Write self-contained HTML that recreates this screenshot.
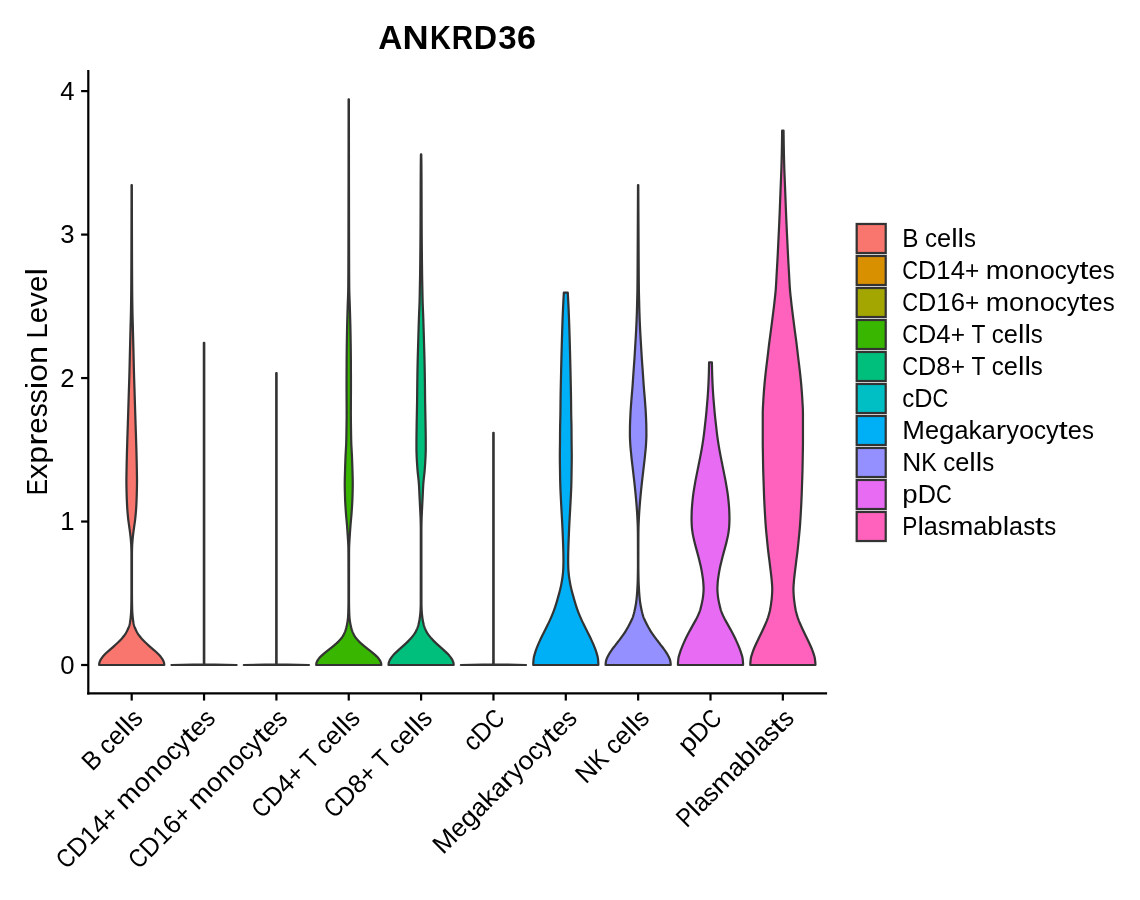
<!DOCTYPE html><html><head><meta charset="utf-8"><title>ANKRD36</title><style>html,body{margin:0;padding:0;background:#fff}svg{display:block}#w{will-change:transform;width:1140px;height:900px}text{font-family:"Liberation Sans",sans-serif;fill:#000}</style></head><body>
<div id="w">
<svg width="1140" height="900" viewBox="0 0 1140 900">
<rect width="1140" height="900" fill="#fff"/>
<g stroke="#333333" stroke-width="2.22" stroke-linejoin="round" stroke-linecap="round">
<path d="M131.55,185.05 L131.55,186.05 L131.55,187.05 L131.55,188.05 L131.55,189.05 L131.55,190.05 L131.55,191.05 L131.54,192.05 L131.54,193.05 L131.54,194.05 L131.54,195.05 L131.54,196.05 L131.54,197.05 L131.54,198.05 L131.54,199.05 L131.53,200.05 L131.53,201.05 L131.53,202.05 L131.53,203.05 L131.53,204.05 L131.53,205.05 L131.53,206.05 L131.52,207.05 L131.52,208.05 L131.52,209.05 L131.52,210.05 L131.52,211.05 L131.51,212.05 L131.51,213.05 L131.51,214.05 L131.51,215.05 L131.51,216.05 L131.50,217.05 L131.50,218.05 L131.50,219.05 L131.50,220.05 L131.50,221.05 L131.49,222.05 L131.49,223.05 L131.49,224.05 L131.49,225.05 L131.48,226.05 L131.48,227.05 L131.48,228.05 L131.48,229.05 L131.47,230.05 L131.47,231.05 L131.47,232.05 L131.47,233.05 L131.47,234.05 L131.46,235.05 L131.46,236.05 L131.46,237.05 L131.45,238.05 L131.45,239.05 L131.45,240.05 L131.45,241.05 L131.44,242.05 L131.44,243.05 L131.44,244.05 L131.44,245.05 L131.43,246.05 L131.43,247.05 L131.43,248.05 L131.43,249.05 L131.42,250.05 L131.42,251.05 L131.42,252.05 L131.41,253.05 L131.41,254.05 L131.41,255.05 L131.40,256.05 L131.40,257.05 L131.40,258.05 L131.39,259.05 L131.39,260.05 L131.39,261.05 L131.38,262.05 L131.38,263.05 L131.37,264.05 L131.37,265.05 L131.37,266.05 L131.36,267.05 L131.36,268.05 L131.35,269.05 L131.35,270.05 L131.34,271.05 L131.34,272.05 L131.33,273.05 L131.33,274.05 L131.32,275.05 L131.32,276.05 L131.31,277.05 L131.31,278.05 L131.30,279.05 L131.30,280.05 L131.29,281.05 L131.29,282.05 L131.28,283.05 L131.27,284.05 L131.27,285.05 L131.26,286.05 L131.26,287.05 L131.25,288.05 L131.24,289.05 L131.24,290.05 L131.23,291.05 L131.22,292.05 L131.21,293.05 L131.20,294.05 L131.19,295.05 L131.18,296.05 L131.17,297.05 L131.16,298.05 L131.14,299.05 L131.13,300.05 L131.12,301.05 L131.10,302.05 L131.09,303.05 L131.08,304.05 L131.06,305.05 L131.05,306.05 L131.03,307.05 L131.02,308.05 L131.00,309.05 L130.98,310.05 L130.96,311.05 L130.94,312.05 L130.92,313.05 L130.90,314.05 L130.87,315.05 L130.85,316.05 L130.82,317.05 L130.80,318.05 L130.77,319.05 L130.74,320.05 L130.72,321.05 L130.69,322.05 L130.66,323.05 L130.63,324.05 L130.60,325.05 L130.58,326.05 L130.55,327.05 L130.52,328.05 L130.50,329.05 L130.47,330.05 L130.45,331.05 L130.42,332.05 L130.40,333.05 L130.37,334.05 L130.35,335.05 L130.32,336.05 L130.30,337.05 L130.27,338.05 L130.25,339.05 L130.22,340.05 L130.20,341.05 L130.17,342.05 L130.15,343.05 L130.12,344.05 L130.10,345.05 L130.07,346.05 L130.05,347.05 L130.02,348.05 L130.00,349.05 L129.97,350.05 L129.95,351.05 L129.92,352.05 L129.90,353.05 L129.88,354.05 L129.85,355.05 L129.83,356.05 L129.81,357.05 L129.79,358.05 L129.76,359.05 L129.74,360.05 L129.72,361.05 L129.69,362.05 L129.67,363.05 L129.65,364.05 L129.62,365.05 L129.60,366.05 L129.58,367.05 L129.55,368.05 L129.53,369.05 L129.50,370.05 L129.48,371.05 L129.45,372.05 L129.42,373.05 L129.39,374.05 L129.36,375.05 L129.34,376.05 L129.31,377.05 L129.28,378.05 L129.24,379.05 L129.21,380.05 L129.18,381.05 L129.15,382.05 L129.12,383.05 L129.09,384.05 L129.05,385.05 L129.02,386.05 L128.99,387.05 L128.96,388.05 L128.92,389.05 L128.89,390.05 L128.86,391.05 L128.83,392.05 L128.80,393.05 L128.77,394.05 L128.74,395.05 L128.71,396.05 L128.68,397.05 L128.64,398.05 L128.61,399.05 L128.58,400.05 L128.55,401.05 L128.52,402.05 L128.49,403.05 L128.46,404.05 L128.43,405.05 L128.40,406.05 L128.37,407.05 L128.34,408.05 L128.31,409.05 L128.27,410.05 L128.24,411.05 L128.21,412.05 L128.18,413.05 L128.15,414.05 L128.12,415.05 L128.08,416.05 L128.05,417.05 L128.02,418.05 L127.99,419.05 L127.96,420.05 L127.92,421.05 L127.89,422.05 L127.86,423.05 L127.83,424.05 L127.80,425.05 L127.76,426.05 L127.73,427.05 L127.70,428.05 L127.67,429.05 L127.63,430.05 L127.60,431.05 L127.57,432.05 L127.54,433.05 L127.50,434.05 L127.47,435.05 L127.44,436.05 L127.41,437.05 L127.37,438.05 L127.34,439.05 L127.31,440.05 L127.28,441.05 L127.25,442.05 L127.22,443.05 L127.19,444.05 L127.16,445.05 L127.13,446.05 L127.10,447.05 L127.07,448.05 L127.04,449.05 L127.01,450.05 L126.98,451.05 L126.95,452.05 L126.93,453.05 L126.90,454.05 L126.87,455.05 L126.85,456.05 L126.82,457.05 L126.80,458.05 L126.78,459.05 L126.75,460.05 L126.73,461.05 L126.71,462.05 L126.68,463.05 L126.66,464.05 L126.64,465.05 L126.62,466.05 L126.60,467.05 L126.58,468.05 L126.57,469.05 L126.55,470.05 L126.53,471.05 L126.51,472.05 L126.50,473.05 L126.48,474.05 L126.46,475.05 L126.44,476.05 L126.43,477.05 L126.42,478.05 L126.41,479.05 L126.40,480.05 L126.40,481.05 L126.40,482.05 L126.41,483.05 L126.42,484.05 L126.43,485.05 L126.45,486.05 L126.47,487.05 L126.49,488.05 L126.51,489.05 L126.53,490.05 L126.55,491.05 L126.57,492.05 L126.60,493.05 L126.62,494.05 L126.65,495.05 L126.68,496.05 L126.72,497.05 L126.75,498.05 L126.79,499.05 L126.83,500.05 L126.87,501.05 L126.91,502.05 L126.96,503.05 L127.00,504.05 L127.05,505.05 L127.11,506.05 L127.16,507.05 L127.23,508.05 L127.30,509.05 L127.37,510.05 L127.45,511.05 L127.53,512.05 L127.62,513.05 L127.71,514.05 L127.80,515.05 L127.90,516.05 L128.00,517.05 L128.10,518.05 L128.21,519.05 L128.32,520.05 L128.45,521.05 L128.58,522.05 L128.73,523.05 L128.87,524.05 L129.02,525.05 L129.16,526.05 L129.29,527.05 L129.43,528.05 L129.58,529.05 L129.72,530.05 L129.85,531.05 L129.98,532.05 L130.11,533.05 L130.23,534.05 L130.34,535.05 L130.46,536.05 L130.57,537.05 L130.67,538.05 L130.77,539.05 L130.85,540.05 L130.93,541.05 L131.01,542.05 L131.09,543.05 L131.16,544.05 L131.22,545.05 L131.27,546.05 L131.30,547.05 L131.33,548.05 L131.36,549.05 L131.38,550.05 L131.41,551.05 L131.42,552.05 L131.44,553.05 L131.45,554.05 L131.45,555.05 L131.45,556.05 L131.45,557.05 L131.45,558.05 L131.45,559.05 L131.45,560.05 L131.45,561.05 L131.45,562.05 L131.45,563.05 L131.45,564.05 L131.45,565.05 L131.45,566.05 L131.45,567.05 L131.45,568.05 L131.45,569.05 L131.45,570.05 L131.45,571.05 L131.45,572.05 L131.45,573.05 L131.45,574.05 L131.45,575.05 L131.45,576.05 L131.45,577.05 L131.45,578.05 L131.45,579.05 L131.45,580.05 L131.45,581.05 L131.45,582.05 L131.45,583.05 L131.45,584.05 L131.45,585.05 L131.45,586.05 L131.45,587.05 L131.45,588.05 L131.45,589.05 L131.45,590.05 L131.45,591.05 L131.45,592.05 L131.44,593.05 L131.44,594.05 L131.43,595.05 L131.43,596.05 L131.42,597.05 L131.42,598.05 L131.41,599.05 L131.40,600.05 L131.39,601.05 L131.38,602.05 L131.36,603.05 L131.35,604.05 L131.33,605.05 L131.31,606.05 L131.28,607.05 L131.26,608.05 L131.23,609.05 L131.20,610.05 L131.16,611.05 L131.10,612.05 L131.04,613.05 L130.96,614.05 L130.88,615.05 L130.79,616.05 L130.70,617.05 L130.59,618.05 L130.48,619.05 L130.36,620.05 L130.22,621.05 L130.06,622.05 L129.89,623.05 L129.69,624.05 L129.45,625.05 L129.14,626.05 L128.79,627.05 L128.40,628.05 L127.96,629.05 L127.50,630.05 L127.02,631.05 L126.50,632.05 L125.92,633.05 L125.28,634.05 L124.58,635.05 L123.85,636.05 L123.08,637.05 L122.30,638.05 L121.41,639.05 L120.47,640.05 L119.49,641.05 L118.47,642.05 L117.41,643.05 L116.32,644.05 L115.21,645.05 L114.07,646.05 L112.93,647.05 L111.77,648.05 L110.62,649.05 L109.48,650.05 L108.35,651.05 L107.25,652.05 L106.19,653.05 L105.17,654.05 L104.20,655.05 L103.30,656.05 L102.47,657.05 L101.71,658.05 L101.04,659.05 L100.46,660.05 L99.99,661.05 L99.61,662.05 L99.33,663.05 L99.19,664.05 L99.13,665.00 L164.27,665.00 L164.21,664.05 L164.07,663.05 L163.79,662.05 L163.41,661.05 L162.94,660.05 L162.36,659.05 L161.69,658.05 L160.93,657.05 L160.10,656.05 L159.20,655.05 L158.23,654.05 L157.21,653.05 L156.15,652.05 L155.05,651.05 L153.92,650.05 L152.78,649.05 L151.63,648.05 L150.47,647.05 L149.33,646.05 L148.19,645.05 L147.08,644.05 L145.99,643.05 L144.93,642.05 L143.91,641.05 L142.93,640.05 L141.99,639.05 L141.10,638.05 L140.32,637.05 L139.55,636.05 L138.82,635.05 L138.12,634.05 L137.48,633.05 L136.90,632.05 L136.38,631.05 L135.90,630.05 L135.44,629.05 L135.00,628.05 L134.61,627.05 L134.26,626.05 L133.95,625.05 L133.71,624.05 L133.51,623.05 L133.34,622.05 L133.18,621.05 L133.04,620.05 L132.92,619.05 L132.81,618.05 L132.70,617.05 L132.61,616.05 L132.52,615.05 L132.44,614.05 L132.36,613.05 L132.30,612.05 L132.24,611.05 L132.20,610.05 L132.17,609.05 L132.14,608.05 L132.12,607.05 L132.09,606.05 L132.07,605.05 L132.05,604.05 L132.04,603.05 L132.02,602.05 L132.01,601.05 L132.00,600.05 L131.99,599.05 L131.98,598.05 L131.98,597.05 L131.97,596.05 L131.97,595.05 L131.96,594.05 L131.96,593.05 L131.95,592.05 L131.95,591.05 L131.95,590.05 L131.95,589.05 L131.95,588.05 L131.95,587.05 L131.95,586.05 L131.95,585.05 L131.95,584.05 L131.95,583.05 L131.95,582.05 L131.95,581.05 L131.95,580.05 L131.95,579.05 L131.95,578.05 L131.95,577.05 L131.95,576.05 L131.95,575.05 L131.95,574.05 L131.95,573.05 L131.95,572.05 L131.95,571.05 L131.95,570.05 L131.95,569.05 L131.95,568.05 L131.95,567.05 L131.95,566.05 L131.95,565.05 L131.95,564.05 L131.95,563.05 L131.95,562.05 L131.95,561.05 L131.95,560.05 L131.95,559.05 L131.95,558.05 L131.95,557.05 L131.95,556.05 L131.95,555.05 L131.95,554.05 L131.96,553.05 L131.98,552.05 L131.99,551.05 L132.02,550.05 L132.04,549.05 L132.07,548.05 L132.10,547.05 L132.13,546.05 L132.18,545.05 L132.24,544.05 L132.31,543.05 L132.39,542.05 L132.47,541.05 L132.55,540.05 L132.63,539.05 L132.73,538.05 L132.83,537.05 L132.94,536.05 L133.06,535.05 L133.17,534.05 L133.29,533.05 L133.42,532.05 L133.55,531.05 L133.68,530.05 L133.82,529.05 L133.97,528.05 L134.11,527.05 L134.24,526.05 L134.38,525.05 L134.53,524.05 L134.67,523.05 L134.82,522.05 L134.95,521.05 L135.08,520.05 L135.19,519.05 L135.30,518.05 L135.40,517.05 L135.50,516.05 L135.60,515.05 L135.69,514.05 L135.78,513.05 L135.87,512.05 L135.95,511.05 L136.03,510.05 L136.10,509.05 L136.17,508.05 L136.24,507.05 L136.29,506.05 L136.35,505.05 L136.40,504.05 L136.44,503.05 L136.49,502.05 L136.53,501.05 L136.57,500.05 L136.61,499.05 L136.65,498.05 L136.68,497.05 L136.72,496.05 L136.75,495.05 L136.78,494.05 L136.80,493.05 L136.83,492.05 L136.85,491.05 L136.87,490.05 L136.89,489.05 L136.91,488.05 L136.93,487.05 L136.95,486.05 L136.97,485.05 L136.98,484.05 L136.99,483.05 L137.00,482.05 L137.00,481.05 L137.00,480.05 L136.99,479.05 L136.98,478.05 L136.97,477.05 L136.96,476.05 L136.94,475.05 L136.92,474.05 L136.90,473.05 L136.89,472.05 L136.87,471.05 L136.85,470.05 L136.83,469.05 L136.82,468.05 L136.80,467.05 L136.78,466.05 L136.76,465.05 L136.74,464.05 L136.72,463.05 L136.69,462.05 L136.67,461.05 L136.65,460.05 L136.62,459.05 L136.60,458.05 L136.58,457.05 L136.55,456.05 L136.53,455.05 L136.50,454.05 L136.47,453.05 L136.45,452.05 L136.42,451.05 L136.39,450.05 L136.36,449.05 L136.33,448.05 L136.30,447.05 L136.27,446.05 L136.24,445.05 L136.21,444.05 L136.18,443.05 L136.15,442.05 L136.12,441.05 L136.09,440.05 L136.06,439.05 L136.03,438.05 L135.99,437.05 L135.96,436.05 L135.93,435.05 L135.90,434.05 L135.86,433.05 L135.83,432.05 L135.80,431.05 L135.77,430.05 L135.73,429.05 L135.70,428.05 L135.67,427.05 L135.64,426.05 L135.60,425.05 L135.57,424.05 L135.54,423.05 L135.51,422.05 L135.48,421.05 L135.44,420.05 L135.41,419.05 L135.38,418.05 L135.35,417.05 L135.32,416.05 L135.28,415.05 L135.25,414.05 L135.22,413.05 L135.19,412.05 L135.16,411.05 L135.13,410.05 L135.09,409.05 L135.06,408.05 L135.03,407.05 L135.00,406.05 L134.97,405.05 L134.94,404.05 L134.91,403.05 L134.88,402.05 L134.85,401.05 L134.82,400.05 L134.79,399.05 L134.76,398.05 L134.72,397.05 L134.69,396.05 L134.66,395.05 L134.63,394.05 L134.60,393.05 L134.57,392.05 L134.54,391.05 L134.51,390.05 L134.48,389.05 L134.44,388.05 L134.41,387.05 L134.38,386.05 L134.35,385.05 L134.31,384.05 L134.28,383.05 L134.25,382.05 L134.22,381.05 L134.19,380.05 L134.16,379.05 L134.12,378.05 L134.09,377.05 L134.06,376.05 L134.04,375.05 L134.01,374.05 L133.98,373.05 L133.95,372.05 L133.92,371.05 L133.90,370.05 L133.87,369.05 L133.85,368.05 L133.82,367.05 L133.80,366.05 L133.78,365.05 L133.75,364.05 L133.73,363.05 L133.71,362.05 L133.68,361.05 L133.66,360.05 L133.64,359.05 L133.61,358.05 L133.59,357.05 L133.57,356.05 L133.55,355.05 L133.52,354.05 L133.50,353.05 L133.48,352.05 L133.45,351.05 L133.43,350.05 L133.40,349.05 L133.38,348.05 L133.35,347.05 L133.33,346.05 L133.30,345.05 L133.28,344.05 L133.25,343.05 L133.23,342.05 L133.20,341.05 L133.18,340.05 L133.15,339.05 L133.13,338.05 L133.10,337.05 L133.08,336.05 L133.05,335.05 L133.03,334.05 L133.00,333.05 L132.98,332.05 L132.95,331.05 L132.93,330.05 L132.90,329.05 L132.88,328.05 L132.85,327.05 L132.82,326.05 L132.80,325.05 L132.77,324.05 L132.74,323.05 L132.71,322.05 L132.68,321.05 L132.66,320.05 L132.63,319.05 L132.60,318.05 L132.58,317.05 L132.55,316.05 L132.53,315.05 L132.50,314.05 L132.48,313.05 L132.46,312.05 L132.44,311.05 L132.42,310.05 L132.40,309.05 L132.38,308.05 L132.37,307.05 L132.35,306.05 L132.34,305.05 L132.32,304.05 L132.31,303.05 L132.30,302.05 L132.28,301.05 L132.27,300.05 L132.26,299.05 L132.24,298.05 L132.23,297.05 L132.22,296.05 L132.21,295.05 L132.20,294.05 L132.19,293.05 L132.18,292.05 L132.17,291.05 L132.16,290.05 L132.16,289.05 L132.15,288.05 L132.14,287.05 L132.14,286.05 L132.13,285.05 L132.13,284.05 L132.12,283.05 L132.11,282.05 L132.11,281.05 L132.10,280.05 L132.10,279.05 L132.09,278.05 L132.09,277.05 L132.08,276.05 L132.08,275.05 L132.07,274.05 L132.07,273.05 L132.06,272.05 L132.06,271.05 L132.05,270.05 L132.05,269.05 L132.04,268.05 L132.04,267.05 L132.03,266.05 L132.03,265.05 L132.03,264.05 L132.02,263.05 L132.02,262.05 L132.01,261.05 L132.01,260.05 L132.01,259.05 L132.00,258.05 L132.00,257.05 L132.00,256.05 L131.99,255.05 L131.99,254.05 L131.99,253.05 L131.98,252.05 L131.98,251.05 L131.98,250.05 L131.97,249.05 L131.97,248.05 L131.97,247.05 L131.97,246.05 L131.96,245.05 L131.96,244.05 L131.96,243.05 L131.96,242.05 L131.95,241.05 L131.95,240.05 L131.95,239.05 L131.95,238.05 L131.94,237.05 L131.94,236.05 L131.94,235.05 L131.93,234.05 L131.93,233.05 L131.93,232.05 L131.93,231.05 L131.93,230.05 L131.92,229.05 L131.92,228.05 L131.92,227.05 L131.92,226.05 L131.91,225.05 L131.91,224.05 L131.91,223.05 L131.91,222.05 L131.90,221.05 L131.90,220.05 L131.90,219.05 L131.90,218.05 L131.90,217.05 L131.89,216.05 L131.89,215.05 L131.89,214.05 L131.89,213.05 L131.89,212.05 L131.88,211.05 L131.88,210.05 L131.88,209.05 L131.88,208.05 L131.88,207.05 L131.87,206.05 L131.87,205.05 L131.87,204.05 L131.87,203.05 L131.87,202.05 L131.87,201.05 L131.87,200.05 L131.86,199.05 L131.86,198.05 L131.86,197.05 L131.86,196.05 L131.86,195.05 L131.86,194.05 L131.86,193.05 L131.86,192.05 L131.85,191.05 L131.85,190.05 L131.85,189.05 L131.85,188.05 L131.85,187.05 L131.85,186.05 L131.85,185.05Z" fill="#F8766D"/>
<path d="M203.85,342.75 L203.85,664.30 L171.48,665.00 L236.62,665.00 L204.25,664.30 L204.25,342.75Z" fill="#D89000"/>
<path d="M276.20,373.05 L276.20,664.30 L243.83,665.00 L308.97,665.00 L276.60,664.30 L276.60,373.05Z" fill="#A3A500"/>
<path d="M348.60,99.35 L348.60,100.35 L348.60,101.35 L348.60,102.35 L348.60,103.35 L348.60,104.35 L348.60,105.35 L348.60,106.35 L348.60,107.35 L348.60,108.35 L348.60,109.35 L348.60,110.35 L348.60,111.35 L348.60,112.35 L348.60,113.35 L348.60,114.35 L348.60,115.35 L348.60,116.35 L348.60,117.35 L348.60,118.35 L348.60,119.35 L348.60,120.35 L348.60,121.35 L348.60,122.35 L348.59,123.35 L348.59,124.35 L348.59,125.35 L348.59,126.35 L348.59,127.35 L348.59,128.35 L348.59,129.35 L348.59,130.35 L348.59,131.35 L348.59,132.35 L348.59,133.35 L348.59,134.35 L348.59,135.35 L348.59,136.35 L348.59,137.35 L348.59,138.35 L348.59,139.35 L348.59,140.35 L348.58,141.35 L348.58,142.35 L348.58,143.35 L348.58,144.35 L348.58,145.35 L348.58,146.35 L348.58,147.35 L348.58,148.35 L348.58,149.35 L348.58,150.35 L348.58,151.35 L348.58,152.35 L348.57,153.35 L348.57,154.35 L348.57,155.35 L348.57,156.35 L348.57,157.35 L348.57,158.35 L348.57,159.35 L348.57,160.35 L348.57,161.35 L348.57,162.35 L348.56,163.35 L348.56,164.35 L348.56,165.35 L348.56,166.35 L348.56,167.35 L348.56,168.35 L348.56,169.35 L348.56,170.35 L348.56,171.35 L348.55,172.35 L348.55,173.35 L348.55,174.35 L348.55,175.35 L348.55,176.35 L348.55,177.35 L348.55,178.35 L348.55,179.35 L348.55,180.35 L348.54,181.35 L348.54,182.35 L348.54,183.35 L348.54,184.35 L348.54,185.35 L348.54,186.35 L348.54,187.35 L348.53,188.35 L348.53,189.35 L348.53,190.35 L348.53,191.35 L348.53,192.35 L348.53,193.35 L348.53,194.35 L348.52,195.35 L348.52,196.35 L348.52,197.35 L348.52,198.35 L348.52,199.35 L348.52,200.35 L348.52,201.35 L348.51,202.35 L348.51,203.35 L348.51,204.35 L348.51,205.35 L348.51,206.35 L348.51,207.35 L348.51,208.35 L348.50,209.35 L348.50,210.35 L348.50,211.35 L348.50,212.35 L348.50,213.35 L348.50,214.35 L348.49,215.35 L348.49,216.35 L348.49,217.35 L348.49,218.35 L348.49,219.35 L348.49,220.35 L348.48,221.35 L348.48,222.35 L348.48,223.35 L348.48,224.35 L348.48,225.35 L348.47,226.35 L348.47,227.35 L348.47,228.35 L348.47,229.35 L348.47,230.35 L348.47,231.35 L348.46,232.35 L348.46,233.35 L348.46,234.35 L348.46,235.35 L348.46,236.35 L348.45,237.35 L348.45,238.35 L348.45,239.35 L348.45,240.35 L348.45,241.35 L348.45,242.35 L348.44,243.35 L348.44,244.35 L348.44,245.35 L348.44,246.35 L348.44,247.35 L348.43,248.35 L348.43,249.35 L348.43,250.35 L348.43,251.35 L348.42,252.35 L348.42,253.35 L348.42,254.35 L348.42,255.35 L348.41,256.35 L348.41,257.35 L348.41,258.35 L348.40,259.35 L348.40,260.35 L348.40,261.35 L348.39,262.35 L348.39,263.35 L348.39,264.35 L348.38,265.35 L348.38,266.35 L348.38,267.35 L348.37,268.35 L348.37,269.35 L348.36,270.35 L348.36,271.35 L348.35,272.35 L348.35,273.35 L348.34,274.35 L348.34,275.35 L348.33,276.35 L348.33,277.35 L348.32,278.35 L348.31,279.35 L348.31,280.35 L348.30,281.35 L348.29,282.35 L348.29,283.35 L348.28,284.35 L348.27,285.35 L348.26,286.35 L348.26,287.35 L348.25,288.35 L348.23,289.35 L348.22,290.35 L348.20,291.35 L348.17,292.35 L348.14,293.35 L348.11,294.35 L348.08,295.35 L348.04,296.35 L348.01,297.35 L347.97,298.35 L347.93,299.35 L347.90,300.35 L347.86,301.35 L347.82,302.35 L347.78,303.35 L347.75,304.35 L347.72,305.35 L347.69,306.35 L347.66,307.35 L347.63,308.35 L347.60,309.35 L347.57,310.35 L347.54,311.35 L347.51,312.35 L347.48,313.35 L347.45,314.35 L347.42,315.35 L347.39,316.35 L347.36,317.35 L347.34,318.35 L347.31,319.35 L347.28,320.35 L347.25,321.35 L347.23,322.35 L347.20,323.35 L347.17,324.35 L347.15,325.35 L347.13,326.35 L347.10,327.35 L347.08,328.35 L347.06,329.35 L347.04,330.35 L347.02,331.35 L347.01,332.35 L346.99,333.35 L346.97,334.35 L346.95,335.35 L346.93,336.35 L346.91,337.35 L346.90,338.35 L346.88,339.35 L346.86,340.35 L346.85,341.35 L346.83,342.35 L346.81,343.35 L346.80,344.35 L346.78,345.35 L346.77,346.35 L346.76,347.35 L346.74,348.35 L346.73,349.35 L346.72,350.35 L346.71,351.35 L346.70,352.35 L346.69,353.35 L346.68,354.35 L346.67,355.35 L346.66,356.35 L346.65,357.35 L346.65,358.35 L346.64,359.35 L346.64,360.35 L346.63,361.35 L346.63,362.35 L346.62,363.35 L346.62,364.35 L346.61,365.35 L346.61,366.35 L346.60,367.35 L346.60,368.35 L346.59,369.35 L346.59,370.35 L346.58,371.35 L346.58,372.35 L346.57,373.35 L346.57,374.35 L346.57,375.35 L346.56,376.35 L346.56,377.35 L346.56,378.35 L346.56,379.35 L346.56,380.35 L346.55,381.35 L346.55,382.35 L346.55,383.35 L346.55,384.35 L346.55,385.35 L346.55,386.35 L346.55,387.35 L346.55,388.35 L346.55,389.35 L346.56,390.35 L346.56,391.35 L346.56,392.35 L346.57,393.35 L346.57,394.35 L346.58,395.35 L346.58,396.35 L346.59,397.35 L346.59,398.35 L346.60,399.35 L346.60,400.35 L346.61,401.35 L346.61,402.35 L346.62,403.35 L346.62,404.35 L346.63,405.35 L346.63,406.35 L346.64,407.35 L346.64,408.35 L346.64,409.35 L346.65,410.35 L346.65,411.35 L346.65,412.35 L346.65,413.35 L346.65,414.35 L346.65,415.35 L346.64,416.35 L346.64,417.35 L346.63,418.35 L346.62,419.35 L346.61,420.35 L346.59,421.35 L346.58,422.35 L346.57,423.35 L346.55,424.35 L346.54,425.35 L346.52,426.35 L346.51,427.35 L346.50,428.35 L346.48,429.35 L346.47,430.35 L346.45,431.35 L346.44,432.35 L346.42,433.35 L346.41,434.35 L346.39,435.35 L346.37,436.35 L346.36,437.35 L346.34,438.35 L346.31,439.35 L346.29,440.35 L346.27,441.35 L346.24,442.35 L346.21,443.35 L346.17,444.35 L346.12,445.35 L346.07,446.35 L346.02,447.35 L345.96,448.35 L345.91,449.35 L345.85,450.35 L345.79,451.35 L345.73,452.35 L345.68,453.35 L345.63,454.35 L345.58,455.35 L345.54,456.35 L345.49,457.35 L345.45,458.35 L345.41,459.35 L345.37,460.35 L345.34,461.35 L345.30,462.35 L345.26,463.35 L345.23,464.35 L345.19,465.35 L345.16,466.35 L345.13,467.35 L345.10,468.35 L345.07,469.35 L345.04,470.35 L345.01,471.35 L344.98,472.35 L344.95,473.35 L344.93,474.35 L344.90,475.35 L344.87,476.35 L344.84,477.35 L344.82,478.35 L344.80,479.35 L344.78,480.35 L344.77,481.35 L344.76,482.35 L344.75,483.35 L344.75,484.35 L344.75,485.35 L344.76,486.35 L344.77,487.35 L344.79,488.35 L344.81,489.35 L344.83,490.35 L344.85,491.35 L344.88,492.35 L344.91,493.35 L344.94,494.35 L344.97,495.35 L345.00,496.35 L345.03,497.35 L345.06,498.35 L345.10,499.35 L345.14,500.35 L345.18,501.35 L345.23,502.35 L345.29,503.35 L345.35,504.35 L345.41,505.35 L345.47,506.35 L345.53,507.35 L345.60,508.35 L345.67,509.35 L345.74,510.35 L345.81,511.35 L345.87,512.35 L345.95,513.35 L346.03,514.35 L346.11,515.35 L346.20,516.35 L346.28,517.35 L346.38,518.35 L346.47,519.35 L346.56,520.35 L346.65,521.35 L346.74,522.35 L346.83,523.35 L346.92,524.35 L347.00,525.35 L347.08,526.35 L347.15,527.35 L347.23,528.35 L347.30,529.35 L347.37,530.35 L347.44,531.35 L347.51,532.35 L347.57,533.35 L347.64,534.35 L347.71,535.35 L347.78,536.35 L347.84,537.35 L347.90,538.35 L347.96,539.35 L348.02,540.35 L348.08,541.35 L348.14,542.35 L348.20,543.35 L348.25,544.35 L348.30,545.35 L348.33,546.35 L348.36,547.35 L348.38,548.35 L348.39,549.35 L348.41,550.35 L348.42,551.35 L348.43,552.35 L348.44,553.35 L348.45,554.35 L348.45,555.35 L348.45,556.35 L348.46,557.35 L348.46,558.35 L348.46,559.35 L348.46,560.35 L348.46,561.35 L348.47,562.35 L348.47,563.35 L348.47,564.35 L348.47,565.35 L348.47,566.35 L348.48,567.35 L348.48,568.35 L348.48,569.35 L348.48,570.35 L348.48,571.35 L348.48,572.35 L348.48,573.35 L348.49,574.35 L348.49,575.35 L348.49,576.35 L348.49,577.35 L348.49,578.35 L348.49,579.35 L348.49,580.35 L348.49,581.35 L348.49,582.35 L348.49,583.35 L348.50,584.35 L348.50,585.35 L348.50,586.35 L348.50,587.35 L348.50,588.35 L348.50,589.35 L348.50,590.35 L348.50,591.35 L348.50,592.35 L348.50,593.35 L348.50,594.35 L348.50,595.35 L348.50,596.35 L348.50,597.35 L348.50,598.35 L348.50,599.35 L348.50,600.35 L348.50,601.35 L348.49,602.35 L348.48,603.35 L348.46,604.35 L348.45,605.35 L348.43,606.35 L348.41,607.35 L348.39,608.35 L348.36,609.35 L348.34,610.35 L348.31,611.35 L348.28,612.35 L348.24,613.35 L348.20,614.35 L348.15,615.35 L348.09,616.35 L348.03,617.35 L347.94,618.35 L347.83,619.35 L347.70,620.35 L347.55,621.35 L347.39,622.35 L347.21,623.35 L347.04,624.35 L346.84,625.35 L346.62,626.35 L346.38,627.35 L346.11,628.35 L345.82,629.35 L345.50,630.35 L345.16,631.35 L344.77,632.35 L344.32,633.35 L343.82,634.35 L343.28,635.35 L342.68,636.35 L342.04,637.35 L341.35,638.35 L340.47,639.35 L339.55,640.35 L338.58,641.35 L337.55,642.35 L336.47,643.35 L335.34,644.35 L334.17,645.35 L332.96,646.35 L331.72,647.35 L330.46,648.35 L329.19,649.35 L327.91,650.35 L326.65,651.35 L325.41,652.35 L324.20,653.35 L323.03,654.35 L321.92,655.35 L320.88,656.35 L319.91,657.35 L319.04,658.35 L318.27,659.35 L317.61,660.35 L317.07,661.35 L316.65,662.35 L316.36,663.35 L316.22,664.35 L316.18,665.00 L381.32,665.00 L381.28,664.35 L381.14,663.35 L380.85,662.35 L380.43,661.35 L379.89,660.35 L379.23,659.35 L378.46,658.35 L377.59,657.35 L376.62,656.35 L375.58,655.35 L374.47,654.35 L373.30,653.35 L372.09,652.35 L370.85,651.35 L369.59,650.35 L368.31,649.35 L367.04,648.35 L365.78,647.35 L364.54,646.35 L363.33,645.35 L362.16,644.35 L361.03,643.35 L359.95,642.35 L358.92,641.35 L357.95,640.35 L357.03,639.35 L356.15,638.35 L355.46,637.35 L354.82,636.35 L354.22,635.35 L353.68,634.35 L353.18,633.35 L352.73,632.35 L352.34,631.35 L352.00,630.35 L351.68,629.35 L351.39,628.35 L351.12,627.35 L350.88,626.35 L350.66,625.35 L350.46,624.35 L350.29,623.35 L350.11,622.35 L349.95,621.35 L349.80,620.35 L349.67,619.35 L349.56,618.35 L349.47,617.35 L349.41,616.35 L349.35,615.35 L349.30,614.35 L349.26,613.35 L349.22,612.35 L349.19,611.35 L349.16,610.35 L349.14,609.35 L349.11,608.35 L349.09,607.35 L349.07,606.35 L349.05,605.35 L349.04,604.35 L349.02,603.35 L349.01,602.35 L349.00,601.35 L349.00,600.35 L349.00,599.35 L349.00,598.35 L349.00,597.35 L349.00,596.35 L349.00,595.35 L349.00,594.35 L349.00,593.35 L349.00,592.35 L349.00,591.35 L349.00,590.35 L349.00,589.35 L349.00,588.35 L349.00,587.35 L349.00,586.35 L349.00,585.35 L349.00,584.35 L349.01,583.35 L349.01,582.35 L349.01,581.35 L349.01,580.35 L349.01,579.35 L349.01,578.35 L349.01,577.35 L349.01,576.35 L349.01,575.35 L349.01,574.35 L349.02,573.35 L349.02,572.35 L349.02,571.35 L349.02,570.35 L349.02,569.35 L349.02,568.35 L349.02,567.35 L349.03,566.35 L349.03,565.35 L349.03,564.35 L349.03,563.35 L349.03,562.35 L349.04,561.35 L349.04,560.35 L349.04,559.35 L349.04,558.35 L349.04,557.35 L349.05,556.35 L349.05,555.35 L349.05,554.35 L349.06,553.35 L349.07,552.35 L349.08,551.35 L349.09,550.35 L349.11,549.35 L349.12,548.35 L349.14,547.35 L349.17,546.35 L349.20,545.35 L349.25,544.35 L349.30,543.35 L349.36,542.35 L349.42,541.35 L349.48,540.35 L349.54,539.35 L349.60,538.35 L349.66,537.35 L349.72,536.35 L349.79,535.35 L349.86,534.35 L349.93,533.35 L349.99,532.35 L350.06,531.35 L350.13,530.35 L350.20,529.35 L350.27,528.35 L350.35,527.35 L350.42,526.35 L350.50,525.35 L350.58,524.35 L350.67,523.35 L350.76,522.35 L350.85,521.35 L350.94,520.35 L351.03,519.35 L351.12,518.35 L351.22,517.35 L351.30,516.35 L351.39,515.35 L351.47,514.35 L351.55,513.35 L351.63,512.35 L351.69,511.35 L351.76,510.35 L351.83,509.35 L351.90,508.35 L351.97,507.35 L352.03,506.35 L352.09,505.35 L352.15,504.35 L352.21,503.35 L352.27,502.35 L352.32,501.35 L352.36,500.35 L352.40,499.35 L352.44,498.35 L352.47,497.35 L352.50,496.35 L352.53,495.35 L352.56,494.35 L352.59,493.35 L352.62,492.35 L352.65,491.35 L352.67,490.35 L352.69,489.35 L352.71,488.35 L352.73,487.35 L352.74,486.35 L352.75,485.35 L352.75,484.35 L352.75,483.35 L352.74,482.35 L352.73,481.35 L352.72,480.35 L352.70,479.35 L352.68,478.35 L352.66,477.35 L352.63,476.35 L352.60,475.35 L352.57,474.35 L352.55,473.35 L352.52,472.35 L352.49,471.35 L352.46,470.35 L352.43,469.35 L352.40,468.35 L352.37,467.35 L352.34,466.35 L352.31,465.35 L352.27,464.35 L352.24,463.35 L352.20,462.35 L352.16,461.35 L352.13,460.35 L352.09,459.35 L352.05,458.35 L352.01,457.35 L351.96,456.35 L351.92,455.35 L351.87,454.35 L351.82,453.35 L351.77,452.35 L351.71,451.35 L351.65,450.35 L351.59,449.35 L351.54,448.35 L351.48,447.35 L351.43,446.35 L351.38,445.35 L351.33,444.35 L351.29,443.35 L351.26,442.35 L351.23,441.35 L351.21,440.35 L351.19,439.35 L351.16,438.35 L351.14,437.35 L351.13,436.35 L351.11,435.35 L351.09,434.35 L351.08,433.35 L351.06,432.35 L351.05,431.35 L351.03,430.35 L351.02,429.35 L351.00,428.35 L350.99,427.35 L350.98,426.35 L350.96,425.35 L350.95,424.35 L350.93,423.35 L350.92,422.35 L350.91,421.35 L350.89,420.35 L350.88,419.35 L350.87,418.35 L350.86,417.35 L350.86,416.35 L350.85,415.35 L350.85,414.35 L350.85,413.35 L350.85,412.35 L350.85,411.35 L350.85,410.35 L350.86,409.35 L350.86,408.35 L350.86,407.35 L350.87,406.35 L350.87,405.35 L350.88,404.35 L350.88,403.35 L350.89,402.35 L350.89,401.35 L350.90,400.35 L350.90,399.35 L350.91,398.35 L350.91,397.35 L350.92,396.35 L350.92,395.35 L350.93,394.35 L350.93,393.35 L350.94,392.35 L350.94,391.35 L350.94,390.35 L350.95,389.35 L350.95,388.35 L350.95,387.35 L350.95,386.35 L350.95,385.35 L350.95,384.35 L350.95,383.35 L350.95,382.35 L350.95,381.35 L350.94,380.35 L350.94,379.35 L350.94,378.35 L350.94,377.35 L350.94,376.35 L350.93,375.35 L350.93,374.35 L350.93,373.35 L350.92,372.35 L350.92,371.35 L350.91,370.35 L350.91,369.35 L350.90,368.35 L350.90,367.35 L350.89,366.35 L350.89,365.35 L350.88,364.35 L350.88,363.35 L350.87,362.35 L350.87,361.35 L350.86,360.35 L350.86,359.35 L350.85,358.35 L350.85,357.35 L350.84,356.35 L350.83,355.35 L350.82,354.35 L350.81,353.35 L350.80,352.35 L350.79,351.35 L350.78,350.35 L350.77,349.35 L350.76,348.35 L350.74,347.35 L350.73,346.35 L350.72,345.35 L350.70,344.35 L350.69,343.35 L350.67,342.35 L350.65,341.35 L350.64,340.35 L350.62,339.35 L350.60,338.35 L350.59,337.35 L350.57,336.35 L350.55,335.35 L350.53,334.35 L350.51,333.35 L350.49,332.35 L350.48,331.35 L350.46,330.35 L350.44,329.35 L350.42,328.35 L350.40,327.35 L350.37,326.35 L350.35,325.35 L350.33,324.35 L350.30,323.35 L350.27,322.35 L350.25,321.35 L350.22,320.35 L350.19,319.35 L350.16,318.35 L350.14,317.35 L350.11,316.35 L350.08,315.35 L350.05,314.35 L350.02,313.35 L349.99,312.35 L349.96,311.35 L349.93,310.35 L349.90,309.35 L349.87,308.35 L349.84,307.35 L349.81,306.35 L349.78,305.35 L349.75,304.35 L349.72,303.35 L349.68,302.35 L349.64,301.35 L349.60,300.35 L349.57,299.35 L349.53,298.35 L349.49,297.35 L349.46,296.35 L349.42,295.35 L349.39,294.35 L349.36,293.35 L349.33,292.35 L349.30,291.35 L349.28,290.35 L349.27,289.35 L349.25,288.35 L349.24,287.35 L349.24,286.35 L349.23,285.35 L349.22,284.35 L349.21,283.35 L349.21,282.35 L349.20,281.35 L349.19,280.35 L349.19,279.35 L349.18,278.35 L349.17,277.35 L349.17,276.35 L349.16,275.35 L349.16,274.35 L349.15,273.35 L349.15,272.35 L349.14,271.35 L349.14,270.35 L349.13,269.35 L349.13,268.35 L349.12,267.35 L349.12,266.35 L349.12,265.35 L349.11,264.35 L349.11,263.35 L349.11,262.35 L349.10,261.35 L349.10,260.35 L349.10,259.35 L349.09,258.35 L349.09,257.35 L349.09,256.35 L349.08,255.35 L349.08,254.35 L349.08,253.35 L349.08,252.35 L349.07,251.35 L349.07,250.35 L349.07,249.35 L349.07,248.35 L349.06,247.35 L349.06,246.35 L349.06,245.35 L349.06,244.35 L349.06,243.35 L349.05,242.35 L349.05,241.35 L349.05,240.35 L349.05,239.35 L349.05,238.35 L349.05,237.35 L349.04,236.35 L349.04,235.35 L349.04,234.35 L349.04,233.35 L349.04,232.35 L349.03,231.35 L349.03,230.35 L349.03,229.35 L349.03,228.35 L349.03,227.35 L349.03,226.35 L349.02,225.35 L349.02,224.35 L349.02,223.35 L349.02,222.35 L349.02,221.35 L349.01,220.35 L349.01,219.35 L349.01,218.35 L349.01,217.35 L349.01,216.35 L349.01,215.35 L349.00,214.35 L349.00,213.35 L349.00,212.35 L349.00,211.35 L349.00,210.35 L349.00,209.35 L348.99,208.35 L348.99,207.35 L348.99,206.35 L348.99,205.35 L348.99,204.35 L348.99,203.35 L348.99,202.35 L348.98,201.35 L348.98,200.35 L348.98,199.35 L348.98,198.35 L348.98,197.35 L348.98,196.35 L348.98,195.35 L348.97,194.35 L348.97,193.35 L348.97,192.35 L348.97,191.35 L348.97,190.35 L348.97,189.35 L348.97,188.35 L348.96,187.35 L348.96,186.35 L348.96,185.35 L348.96,184.35 L348.96,183.35 L348.96,182.35 L348.96,181.35 L348.95,180.35 L348.95,179.35 L348.95,178.35 L348.95,177.35 L348.95,176.35 L348.95,175.35 L348.95,174.35 L348.95,173.35 L348.95,172.35 L348.94,171.35 L348.94,170.35 L348.94,169.35 L348.94,168.35 L348.94,167.35 L348.94,166.35 L348.94,165.35 L348.94,164.35 L348.94,163.35 L348.93,162.35 L348.93,161.35 L348.93,160.35 L348.93,159.35 L348.93,158.35 L348.93,157.35 L348.93,156.35 L348.93,155.35 L348.93,154.35 L348.93,153.35 L348.92,152.35 L348.92,151.35 L348.92,150.35 L348.92,149.35 L348.92,148.35 L348.92,147.35 L348.92,146.35 L348.92,145.35 L348.92,144.35 L348.92,143.35 L348.92,142.35 L348.92,141.35 L348.91,140.35 L348.91,139.35 L348.91,138.35 L348.91,137.35 L348.91,136.35 L348.91,135.35 L348.91,134.35 L348.91,133.35 L348.91,132.35 L348.91,131.35 L348.91,130.35 L348.91,129.35 L348.91,128.35 L348.91,127.35 L348.91,126.35 L348.91,125.35 L348.91,124.35 L348.91,123.35 L348.90,122.35 L348.90,121.35 L348.90,120.35 L348.90,119.35 L348.90,118.35 L348.90,117.35 L348.90,116.35 L348.90,115.35 L348.90,114.35 L348.90,113.35 L348.90,112.35 L348.90,111.35 L348.90,110.35 L348.90,109.35 L348.90,108.35 L348.90,107.35 L348.90,106.35 L348.90,105.35 L348.90,104.35 L348.90,103.35 L348.90,102.35 L348.90,101.35 L348.90,100.35 L348.90,99.35Z" fill="#39B600"/>
<path d="M420.95,154.35 L420.93,155.35 L420.91,156.35 L420.89,157.35 L420.87,158.35 L420.85,159.35 L420.83,160.35 L420.82,161.35 L420.81,162.35 L420.80,163.35 L420.79,164.35 L420.78,165.35 L420.77,166.35 L420.77,167.35 L420.76,168.35 L420.75,169.35 L420.75,170.35 L420.74,171.35 L420.73,172.35 L420.73,173.35 L420.72,174.35 L420.72,175.35 L420.71,176.35 L420.71,177.35 L420.70,178.35 L420.70,179.35 L420.69,180.35 L420.69,181.35 L420.68,182.35 L420.68,183.35 L420.68,184.35 L420.67,185.35 L420.67,186.35 L420.66,187.35 L420.66,188.35 L420.66,189.35 L420.65,190.35 L420.65,191.35 L420.65,192.35 L420.64,193.35 L420.64,194.35 L420.64,195.35 L420.64,196.35 L420.63,197.35 L420.63,198.35 L420.63,199.35 L420.62,200.35 L420.62,201.35 L420.62,202.35 L420.62,203.35 L420.61,204.35 L420.61,205.35 L420.61,206.35 L420.60,207.35 L420.60,208.35 L420.60,209.35 L420.59,210.35 L420.59,211.35 L420.59,212.35 L420.58,213.35 L420.58,214.35 L420.58,215.35 L420.57,216.35 L420.57,217.35 L420.57,218.35 L420.56,219.35 L420.56,220.35 L420.55,221.35 L420.55,222.35 L420.55,223.35 L420.54,224.35 L420.54,225.35 L420.53,226.35 L420.53,227.35 L420.52,228.35 L420.52,229.35 L420.51,230.35 L420.50,231.35 L420.50,232.35 L420.49,233.35 L420.49,234.35 L420.48,235.35 L420.47,236.35 L420.46,237.35 L420.46,238.35 L420.45,239.35 L420.44,240.35 L420.44,241.35 L420.43,242.35 L420.42,243.35 L420.41,244.35 L420.40,245.35 L420.40,246.35 L420.39,247.35 L420.38,248.35 L420.37,249.35 L420.36,250.35 L420.35,251.35 L420.34,252.35 L420.33,253.35 L420.32,254.35 L420.31,255.35 L420.30,256.35 L420.29,257.35 L420.28,258.35 L420.27,259.35 L420.26,260.35 L420.25,261.35 L420.24,262.35 L420.23,263.35 L420.22,264.35 L420.21,265.35 L420.19,266.35 L420.18,267.35 L420.17,268.35 L420.16,269.35 L420.15,270.35 L420.13,271.35 L420.12,272.35 L420.11,273.35 L420.10,274.35 L420.08,275.35 L420.07,276.35 L420.05,277.35 L420.03,278.35 L420.02,279.35 L420.00,280.35 L419.98,281.35 L419.96,282.35 L419.94,283.35 L419.92,284.35 L419.90,285.35 L419.88,286.35 L419.86,287.35 L419.84,288.35 L419.82,289.35 L419.80,290.35 L419.79,291.35 L419.77,292.35 L419.75,293.35 L419.73,294.35 L419.71,295.35 L419.69,296.35 L419.66,297.35 L419.64,298.35 L419.62,299.35 L419.59,300.35 L419.57,301.35 L419.54,302.35 L419.51,303.35 L419.48,304.35 L419.44,305.35 L419.40,306.35 L419.36,307.35 L419.32,308.35 L419.27,309.35 L419.23,310.35 L419.19,311.35 L419.14,312.35 L419.10,313.35 L419.06,314.35 L419.02,315.35 L418.99,316.35 L418.95,317.35 L418.92,318.35 L418.88,319.35 L418.85,320.35 L418.82,321.35 L418.79,322.35 L418.75,323.35 L418.72,324.35 L418.69,325.35 L418.66,326.35 L418.63,327.35 L418.60,328.35 L418.57,329.35 L418.54,330.35 L418.51,331.35 L418.48,332.35 L418.45,333.35 L418.42,334.35 L418.39,335.35 L418.37,336.35 L418.34,337.35 L418.31,338.35 L418.28,339.35 L418.25,340.35 L418.23,341.35 L418.20,342.35 L418.17,343.35 L418.14,344.35 L418.11,345.35 L418.08,346.35 L418.05,347.35 L418.02,348.35 L417.99,349.35 L417.96,350.35 L417.93,351.35 L417.90,352.35 L417.87,353.35 L417.85,354.35 L417.82,355.35 L417.79,356.35 L417.77,357.35 L417.74,358.35 L417.72,359.35 L417.69,360.35 L417.67,361.35 L417.65,362.35 L417.62,363.35 L417.60,364.35 L417.58,365.35 L417.56,366.35 L417.54,367.35 L417.52,368.35 L417.50,369.35 L417.48,370.35 L417.46,371.35 L417.44,372.35 L417.43,373.35 L417.41,374.35 L417.40,375.35 L417.38,376.35 L417.37,377.35 L417.35,378.35 L417.34,379.35 L417.32,380.35 L417.31,381.35 L417.30,382.35 L417.28,383.35 L417.27,384.35 L417.26,385.35 L417.25,386.35 L417.23,387.35 L417.22,388.35 L417.21,389.35 L417.20,390.35 L417.19,391.35 L417.18,392.35 L417.17,393.35 L417.16,394.35 L417.15,395.35 L417.14,396.35 L417.13,397.35 L417.12,398.35 L417.11,399.35 L417.10,400.35 L417.08,401.35 L417.07,402.35 L417.05,403.35 L417.03,404.35 L417.01,405.35 L417.00,406.35 L416.98,407.35 L416.96,408.35 L416.94,409.35 L416.92,410.35 L416.90,411.35 L416.88,412.35 L416.86,413.35 L416.84,414.35 L416.83,415.35 L416.81,416.35 L416.79,417.35 L416.77,418.35 L416.75,419.35 L416.73,420.35 L416.71,421.35 L416.69,422.35 L416.67,423.35 L416.66,424.35 L416.64,425.35 L416.62,426.35 L416.61,427.35 L416.60,428.35 L416.58,429.35 L416.57,430.35 L416.55,431.35 L416.54,432.35 L416.52,433.35 L416.51,434.35 L416.50,435.35 L416.49,436.35 L416.47,437.35 L416.47,438.35 L416.46,439.35 L416.45,440.35 L416.45,441.35 L416.45,442.35 L416.45,443.35 L416.45,444.35 L416.45,445.35 L416.45,446.35 L416.45,447.35 L416.45,448.35 L416.45,449.35 L416.46,450.35 L416.48,451.35 L416.51,452.35 L416.55,453.35 L416.59,454.35 L416.63,455.35 L416.66,456.35 L416.70,457.35 L416.75,458.35 L416.80,459.35 L416.85,460.35 L416.91,461.35 L416.97,462.35 L417.03,463.35 L417.10,464.35 L417.16,465.35 L417.23,466.35 L417.30,467.35 L417.38,468.35 L417.45,469.35 L417.53,470.35 L417.61,471.35 L417.71,472.35 L417.81,473.35 L417.92,474.35 L418.03,475.35 L418.14,476.35 L418.26,477.35 L418.37,478.35 L418.48,479.35 L418.58,480.35 L418.68,481.35 L418.77,482.35 L418.85,483.35 L418.92,484.35 L418.99,485.35 L419.04,486.35 L419.10,487.35 L419.15,488.35 L419.20,489.35 L419.25,490.35 L419.30,491.35 L419.34,492.35 L419.38,493.35 L419.43,494.35 L419.47,495.35 L419.52,496.35 L419.57,497.35 L419.62,498.35 L419.67,499.35 L419.72,500.35 L419.77,501.35 L419.82,502.35 L419.87,503.35 L419.92,504.35 L419.97,505.35 L420.02,506.35 L420.07,507.35 L420.12,508.35 L420.17,509.35 L420.22,510.35 L420.27,511.35 L420.32,512.35 L420.36,513.35 L420.41,514.35 L420.46,515.35 L420.51,516.35 L420.55,517.35 L420.58,518.35 L420.61,519.35 L420.64,520.35 L420.66,521.35 L420.69,522.35 L420.71,523.35 L420.73,524.35 L420.75,525.35 L420.77,526.35 L420.78,527.35 L420.79,528.35 L420.80,529.35 L420.80,530.35 L420.80,531.35 L420.80,532.35 L420.80,533.35 L420.80,534.35 L420.80,535.35 L420.80,536.35 L420.80,537.35 L420.80,538.35 L420.80,539.35 L420.80,540.35 L420.80,541.35 L420.80,542.35 L420.80,543.35 L420.80,544.35 L420.80,545.35 L420.80,546.35 L420.80,547.35 L420.80,548.35 L420.80,549.35 L420.80,550.35 L420.80,551.35 L420.80,552.35 L420.80,553.35 L420.80,554.35 L420.80,555.35 L420.80,556.35 L420.80,557.35 L420.80,558.35 L420.80,559.35 L420.79,560.35 L420.79,561.35 L420.79,562.35 L420.79,563.35 L420.79,564.35 L420.79,565.35 L420.79,566.35 L420.79,567.35 L420.79,568.35 L420.79,569.35 L420.79,570.35 L420.79,571.35 L420.79,572.35 L420.79,573.35 L420.79,574.35 L420.79,575.35 L420.78,576.35 L420.78,577.35 L420.78,578.35 L420.78,579.35 L420.78,580.35 L420.78,581.35 L420.78,582.35 L420.78,583.35 L420.78,584.35 L420.78,585.35 L420.77,586.35 L420.77,587.35 L420.77,588.35 L420.77,589.35 L420.77,590.35 L420.77,591.35 L420.77,592.35 L420.77,593.35 L420.76,594.35 L420.76,595.35 L420.76,596.35 L420.76,597.35 L420.76,598.35 L420.76,599.35 L420.75,600.35 L420.75,601.35 L420.75,602.35 L420.75,603.35 L420.74,604.35 L420.72,605.35 L420.69,606.35 L420.66,607.35 L420.62,608.35 L420.58,609.35 L420.53,610.35 L420.47,611.35 L420.40,612.35 L420.31,613.35 L420.21,614.35 L420.10,615.35 L419.98,616.35 L419.86,617.35 L419.72,618.35 L419.57,619.35 L419.41,620.35 L419.22,621.35 L419.02,622.35 L418.80,623.35 L418.56,624.35 L418.29,625.35 L417.97,626.35 L417.62,627.35 L417.23,628.35 L416.81,629.35 L416.36,630.35 L415.88,631.35 L415.33,632.35 L414.70,633.35 L414.02,634.35 L413.29,635.35 L412.51,636.35 L411.72,637.35 L410.90,638.35 L409.98,639.35 L409.02,640.35 L408.03,641.35 L407.00,642.35 L405.95,643.35 L404.86,644.35 L403.76,645.35 L402.64,646.35 L401.51,647.35 L400.39,648.35 L399.26,649.35 L398.16,650.35 L397.07,651.35 L396.02,652.35 L395.00,653.35 L394.04,654.35 L393.12,655.35 L392.28,656.35 L391.50,657.35 L390.80,658.35 L390.19,659.35 L389.66,660.35 L389.23,661.35 L388.90,662.35 L388.67,663.35 L388.56,664.35 L388.53,665.00 L453.67,665.00 L453.64,664.35 L453.53,663.35 L453.30,662.35 L452.97,661.35 L452.54,660.35 L452.01,659.35 L451.40,658.35 L450.70,657.35 L449.92,656.35 L449.08,655.35 L448.16,654.35 L447.20,653.35 L446.18,652.35 L445.13,651.35 L444.04,650.35 L442.94,649.35 L441.81,648.35 L440.69,647.35 L439.56,646.35 L438.44,645.35 L437.34,644.35 L436.25,643.35 L435.20,642.35 L434.17,641.35 L433.18,640.35 L432.22,639.35 L431.30,638.35 L430.48,637.35 L429.69,636.35 L428.91,635.35 L428.18,634.35 L427.50,633.35 L426.87,632.35 L426.32,631.35 L425.84,630.35 L425.39,629.35 L424.97,628.35 L424.58,627.35 L424.23,626.35 L423.91,625.35 L423.64,624.35 L423.40,623.35 L423.18,622.35 L422.98,621.35 L422.79,620.35 L422.63,619.35 L422.48,618.35 L422.34,617.35 L422.22,616.35 L422.10,615.35 L421.99,614.35 L421.89,613.35 L421.80,612.35 L421.73,611.35 L421.67,610.35 L421.62,609.35 L421.58,608.35 L421.54,607.35 L421.51,606.35 L421.48,605.35 L421.46,604.35 L421.45,603.35 L421.45,602.35 L421.45,601.35 L421.45,600.35 L421.44,599.35 L421.44,598.35 L421.44,597.35 L421.44,596.35 L421.44,595.35 L421.44,594.35 L421.43,593.35 L421.43,592.35 L421.43,591.35 L421.43,590.35 L421.43,589.35 L421.43,588.35 L421.43,587.35 L421.43,586.35 L421.42,585.35 L421.42,584.35 L421.42,583.35 L421.42,582.35 L421.42,581.35 L421.42,580.35 L421.42,579.35 L421.42,578.35 L421.42,577.35 L421.42,576.35 L421.41,575.35 L421.41,574.35 L421.41,573.35 L421.41,572.35 L421.41,571.35 L421.41,570.35 L421.41,569.35 L421.41,568.35 L421.41,567.35 L421.41,566.35 L421.41,565.35 L421.41,564.35 L421.41,563.35 L421.41,562.35 L421.41,561.35 L421.41,560.35 L421.40,559.35 L421.40,558.35 L421.40,557.35 L421.40,556.35 L421.40,555.35 L421.40,554.35 L421.40,553.35 L421.40,552.35 L421.40,551.35 L421.40,550.35 L421.40,549.35 L421.40,548.35 L421.40,547.35 L421.40,546.35 L421.40,545.35 L421.40,544.35 L421.40,543.35 L421.40,542.35 L421.40,541.35 L421.40,540.35 L421.40,539.35 L421.40,538.35 L421.40,537.35 L421.40,536.35 L421.40,535.35 L421.40,534.35 L421.40,533.35 L421.40,532.35 L421.40,531.35 L421.40,530.35 L421.40,529.35 L421.41,528.35 L421.42,527.35 L421.43,526.35 L421.45,525.35 L421.47,524.35 L421.49,523.35 L421.51,522.35 L421.54,521.35 L421.56,520.35 L421.59,519.35 L421.62,518.35 L421.65,517.35 L421.69,516.35 L421.74,515.35 L421.79,514.35 L421.84,513.35 L421.88,512.35 L421.93,511.35 L421.98,510.35 L422.03,509.35 L422.08,508.35 L422.13,507.35 L422.18,506.35 L422.23,505.35 L422.28,504.35 L422.33,503.35 L422.38,502.35 L422.43,501.35 L422.48,500.35 L422.53,499.35 L422.58,498.35 L422.63,497.35 L422.68,496.35 L422.73,495.35 L422.77,494.35 L422.82,493.35 L422.86,492.35 L422.90,491.35 L422.95,490.35 L423.00,489.35 L423.05,488.35 L423.10,487.35 L423.16,486.35 L423.21,485.35 L423.28,484.35 L423.35,483.35 L423.43,482.35 L423.52,481.35 L423.62,480.35 L423.72,479.35 L423.83,478.35 L423.94,477.35 L424.06,476.35 L424.17,475.35 L424.28,474.35 L424.39,473.35 L424.49,472.35 L424.59,471.35 L424.67,470.35 L424.75,469.35 L424.82,468.35 L424.90,467.35 L424.97,466.35 L425.04,465.35 L425.10,464.35 L425.17,463.35 L425.23,462.35 L425.29,461.35 L425.35,460.35 L425.40,459.35 L425.45,458.35 L425.50,457.35 L425.54,456.35 L425.57,455.35 L425.61,454.35 L425.65,453.35 L425.69,452.35 L425.72,451.35 L425.74,450.35 L425.75,449.35 L425.75,448.35 L425.75,447.35 L425.75,446.35 L425.75,445.35 L425.75,444.35 L425.75,443.35 L425.75,442.35 L425.75,441.35 L425.75,440.35 L425.74,439.35 L425.73,438.35 L425.73,437.35 L425.71,436.35 L425.70,435.35 L425.69,434.35 L425.68,433.35 L425.66,432.35 L425.65,431.35 L425.63,430.35 L425.62,429.35 L425.60,428.35 L425.59,427.35 L425.58,426.35 L425.56,425.35 L425.54,424.35 L425.53,423.35 L425.51,422.35 L425.49,421.35 L425.47,420.35 L425.45,419.35 L425.43,418.35 L425.41,417.35 L425.39,416.35 L425.37,415.35 L425.36,414.35 L425.34,413.35 L425.32,412.35 L425.30,411.35 L425.28,410.35 L425.26,409.35 L425.24,408.35 L425.22,407.35 L425.20,406.35 L425.19,405.35 L425.17,404.35 L425.15,403.35 L425.13,402.35 L425.12,401.35 L425.10,400.35 L425.09,399.35 L425.08,398.35 L425.07,397.35 L425.06,396.35 L425.05,395.35 L425.04,394.35 L425.03,393.35 L425.02,392.35 L425.01,391.35 L425.00,390.35 L424.99,389.35 L424.98,388.35 L424.97,387.35 L424.95,386.35 L424.94,385.35 L424.93,384.35 L424.92,383.35 L424.90,382.35 L424.89,381.35 L424.88,380.35 L424.86,379.35 L424.85,378.35 L424.83,377.35 L424.82,376.35 L424.80,375.35 L424.79,374.35 L424.77,373.35 L424.76,372.35 L424.74,371.35 L424.72,370.35 L424.70,369.35 L424.68,368.35 L424.66,367.35 L424.64,366.35 L424.62,365.35 L424.60,364.35 L424.58,363.35 L424.55,362.35 L424.53,361.35 L424.51,360.35 L424.48,359.35 L424.46,358.35 L424.43,357.35 L424.41,356.35 L424.38,355.35 L424.35,354.35 L424.33,353.35 L424.30,352.35 L424.27,351.35 L424.24,350.35 L424.21,349.35 L424.18,348.35 L424.15,347.35 L424.12,346.35 L424.09,345.35 L424.06,344.35 L424.03,343.35 L424.00,342.35 L423.97,341.35 L423.95,340.35 L423.92,339.35 L423.89,338.35 L423.86,337.35 L423.83,336.35 L423.81,335.35 L423.78,334.35 L423.75,333.35 L423.72,332.35 L423.69,331.35 L423.66,330.35 L423.63,329.35 L423.60,328.35 L423.57,327.35 L423.54,326.35 L423.51,325.35 L423.48,324.35 L423.45,323.35 L423.41,322.35 L423.38,321.35 L423.35,320.35 L423.32,319.35 L423.28,318.35 L423.25,317.35 L423.21,316.35 L423.18,315.35 L423.14,314.35 L423.10,313.35 L423.06,312.35 L423.01,311.35 L422.97,310.35 L422.93,309.35 L422.88,308.35 L422.84,307.35 L422.80,306.35 L422.76,305.35 L422.72,304.35 L422.69,303.35 L422.66,302.35 L422.63,301.35 L422.61,300.35 L422.58,299.35 L422.56,298.35 L422.54,297.35 L422.51,296.35 L422.49,295.35 L422.47,294.35 L422.45,293.35 L422.43,292.35 L422.41,291.35 L422.40,290.35 L422.38,289.35 L422.36,288.35 L422.34,287.35 L422.32,286.35 L422.30,285.35 L422.28,284.35 L422.26,283.35 L422.24,282.35 L422.22,281.35 L422.20,280.35 L422.18,279.35 L422.17,278.35 L422.15,277.35 L422.13,276.35 L422.12,275.35 L422.10,274.35 L422.09,273.35 L422.08,272.35 L422.07,271.35 L422.05,270.35 L422.04,269.35 L422.03,268.35 L422.02,267.35 L422.01,266.35 L421.99,265.35 L421.98,264.35 L421.97,263.35 L421.96,262.35 L421.95,261.35 L421.94,260.35 L421.93,259.35 L421.92,258.35 L421.91,257.35 L421.90,256.35 L421.89,255.35 L421.88,254.35 L421.87,253.35 L421.86,252.35 L421.85,251.35 L421.84,250.35 L421.83,249.35 L421.82,248.35 L421.81,247.35 L421.80,246.35 L421.80,245.35 L421.79,244.35 L421.78,243.35 L421.77,242.35 L421.76,241.35 L421.76,240.35 L421.75,239.35 L421.74,238.35 L421.74,237.35 L421.73,236.35 L421.72,235.35 L421.71,234.35 L421.71,233.35 L421.70,232.35 L421.70,231.35 L421.69,230.35 L421.68,229.35 L421.68,228.35 L421.67,227.35 L421.67,226.35 L421.66,225.35 L421.66,224.35 L421.65,223.35 L421.65,222.35 L421.65,221.35 L421.64,220.35 L421.64,219.35 L421.63,218.35 L421.63,217.35 L421.63,216.35 L421.62,215.35 L421.62,214.35 L421.62,213.35 L421.61,212.35 L421.61,211.35 L421.61,210.35 L421.60,209.35 L421.60,208.35 L421.60,207.35 L421.59,206.35 L421.59,205.35 L421.59,204.35 L421.58,203.35 L421.58,202.35 L421.58,201.35 L421.58,200.35 L421.57,199.35 L421.57,198.35 L421.57,197.35 L421.56,196.35 L421.56,195.35 L421.56,194.35 L421.56,193.35 L421.55,192.35 L421.55,191.35 L421.55,190.35 L421.54,189.35 L421.54,188.35 L421.54,187.35 L421.53,186.35 L421.53,185.35 L421.52,184.35 L421.52,183.35 L421.52,182.35 L421.51,181.35 L421.51,180.35 L421.50,179.35 L421.50,178.35 L421.49,177.35 L421.49,176.35 L421.48,175.35 L421.48,174.35 L421.47,173.35 L421.47,172.35 L421.46,171.35 L421.45,170.35 L421.45,169.35 L421.44,168.35 L421.43,167.35 L421.43,166.35 L421.42,165.35 L421.41,164.35 L421.40,163.35 L421.39,162.35 L421.38,161.35 L421.37,160.35 L421.35,159.35 L421.33,158.35 L421.31,157.35 L421.29,156.35 L421.27,155.35 L421.25,154.35Z" fill="#00BF7D"/>
<path d="M493.25,432.75 L493.25,664.30 L460.88,665.00 L526.02,665.00 L493.65,664.30 L493.65,432.75Z" fill="#00BFC4"/>
<path d="M563.85,292.60 L563.79,293.60 L563.74,294.60 L563.68,295.60 L563.63,296.60 L563.57,297.60 L563.52,298.60 L563.46,299.60 L563.41,300.60 L563.36,301.60 L563.31,302.60 L563.26,303.60 L563.21,304.60 L563.16,305.60 L563.11,306.60 L563.06,307.60 L563.02,308.60 L562.97,309.60 L562.93,310.60 L562.88,311.60 L562.84,312.60 L562.80,313.60 L562.76,314.60 L562.72,315.60 L562.68,316.60 L562.64,317.60 L562.60,318.60 L562.56,319.60 L562.53,320.60 L562.49,321.60 L562.46,322.60 L562.42,323.60 L562.39,324.60 L562.35,325.60 L562.32,326.60 L562.29,327.60 L562.26,328.60 L562.22,329.60 L562.19,330.60 L562.16,331.60 L562.13,332.60 L562.10,333.60 L562.07,334.60 L562.04,335.60 L562.01,336.60 L561.98,337.60 L561.95,338.60 L561.92,339.60 L561.90,340.60 L561.87,341.60 L561.84,342.60 L561.81,343.60 L561.78,344.60 L561.76,345.60 L561.73,346.60 L561.70,347.60 L561.67,348.60 L561.65,349.60 L561.62,350.60 L561.59,351.60 L561.57,352.60 L561.54,353.60 L561.51,354.60 L561.49,355.60 L561.46,356.60 L561.44,357.60 L561.41,358.60 L561.39,359.60 L561.36,360.60 L561.34,361.60 L561.32,362.60 L561.29,363.60 L561.27,364.60 L561.25,365.60 L561.22,366.60 L561.20,367.60 L561.18,368.60 L561.15,369.60 L561.13,370.60 L561.11,371.60 L561.09,372.60 L561.06,373.60 L561.04,374.60 L561.02,375.60 L561.00,376.60 L560.98,377.60 L560.95,378.60 L560.93,379.60 L560.91,380.60 L560.89,381.60 L560.87,382.60 L560.85,383.60 L560.82,384.60 L560.80,385.60 L560.78,386.60 L560.76,387.60 L560.74,388.60 L560.72,389.60 L560.70,390.60 L560.69,391.60 L560.67,392.60 L560.65,393.60 L560.63,394.60 L560.62,395.60 L560.60,396.60 L560.58,397.60 L560.57,398.60 L560.56,399.60 L560.54,400.60 L560.53,401.60 L560.52,402.60 L560.51,403.60 L560.50,404.60 L560.49,405.60 L560.48,406.60 L560.47,407.60 L560.46,408.60 L560.45,409.60 L560.44,410.60 L560.43,411.60 L560.42,412.60 L560.41,413.60 L560.39,414.60 L560.37,415.60 L560.35,416.60 L560.33,417.60 L560.31,418.60 L560.28,419.60 L560.25,420.60 L560.23,421.60 L560.20,422.60 L560.18,423.60 L560.16,424.60 L560.14,425.60 L560.12,426.60 L560.10,427.60 L560.09,428.60 L560.08,429.60 L560.08,430.60 L560.07,431.60 L560.06,432.60 L560.05,433.60 L560.05,434.60 L560.04,435.60 L560.04,436.60 L560.03,437.60 L560.02,438.60 L560.02,439.60 L560.01,440.60 L560.00,441.60 L559.99,442.60 L559.98,443.60 L559.97,444.60 L559.96,445.60 L559.94,446.60 L559.93,447.60 L559.92,448.60 L559.90,449.60 L559.89,450.60 L559.88,451.60 L559.87,452.60 L559.86,453.60 L559.85,454.60 L559.85,455.60 L559.85,456.60 L559.85,457.60 L559.86,458.60 L559.87,459.60 L559.87,460.60 L559.88,461.60 L559.90,462.60 L559.91,463.60 L559.92,464.60 L559.94,465.60 L559.95,466.60 L559.97,467.60 L559.98,468.60 L559.99,469.60 L560.01,470.60 L560.02,471.60 L560.04,472.60 L560.05,473.60 L560.07,474.60 L560.08,475.60 L560.10,476.60 L560.11,477.60 L560.13,478.60 L560.15,479.60 L560.17,480.60 L560.19,481.60 L560.22,482.60 L560.24,483.60 L560.27,484.60 L560.30,485.60 L560.33,486.60 L560.37,487.60 L560.41,488.60 L560.45,489.60 L560.49,490.60 L560.54,491.60 L560.59,492.60 L560.63,493.60 L560.68,494.60 L560.73,495.60 L560.78,496.60 L560.83,497.60 L560.88,498.60 L560.93,499.60 L560.98,500.60 L561.03,501.60 L561.08,502.60 L561.14,503.60 L561.19,504.60 L561.25,505.60 L561.30,506.60 L561.36,507.60 L561.41,508.60 L561.47,509.60 L561.52,510.60 L561.58,511.60 L561.63,512.60 L561.69,513.60 L561.74,514.60 L561.80,515.60 L561.85,516.60 L561.91,517.60 L561.96,518.60 L562.02,519.60 L562.07,520.60 L562.13,521.60 L562.18,522.60 L562.23,523.60 L562.28,524.60 L562.33,525.60 L562.38,526.60 L562.43,527.60 L562.47,528.60 L562.52,529.60 L562.56,530.60 L562.61,531.60 L562.65,532.60 L562.69,533.60 L562.73,534.60 L562.77,535.60 L562.82,536.60 L562.86,537.60 L562.90,538.60 L562.93,539.60 L562.97,540.60 L563.01,541.60 L563.05,542.60 L563.09,543.60 L563.12,544.60 L563.16,545.60 L563.19,546.60 L563.22,547.60 L563.25,548.60 L563.28,549.60 L563.31,550.60 L563.33,551.60 L563.36,552.60 L563.37,553.60 L563.39,554.60 L563.40,555.60 L563.42,556.60 L563.43,557.60 L563.44,558.60 L563.45,559.60 L563.45,560.60 L563.45,561.60 L563.44,562.60 L563.42,563.60 L563.40,564.60 L563.38,565.60 L563.35,566.60 L563.31,567.60 L563.28,568.60 L563.22,569.60 L563.16,570.60 L563.08,571.60 L562.99,572.60 L562.89,573.60 L562.79,574.60 L562.68,575.60 L562.56,576.60 L562.42,577.60 L562.27,578.60 L562.11,579.60 L561.94,580.60 L561.77,581.60 L561.60,582.60 L561.42,583.60 L561.23,584.60 L561.03,585.60 L560.83,586.60 L560.61,587.60 L560.39,588.60 L560.16,589.60 L559.91,590.60 L559.64,591.60 L559.36,592.60 L559.08,593.60 L558.80,594.60 L558.51,595.60 L558.23,596.60 L557.96,597.60 L557.68,598.60 L557.40,599.60 L557.11,600.60 L556.82,601.60 L556.52,602.60 L556.22,603.60 L555.91,604.60 L555.59,605.60 L555.27,606.60 L554.93,607.60 L554.59,608.60 L554.24,609.60 L553.88,610.60 L553.50,611.60 L553.12,612.60 L552.72,613.60 L552.31,614.60 L551.89,615.60 L551.47,616.60 L551.04,617.60 L550.60,618.60 L550.15,619.60 L549.70,620.60 L549.23,621.60 L548.76,622.60 L548.29,623.60 L547.81,624.60 L547.33,625.60 L546.84,626.60 L546.34,627.60 L545.85,628.60 L545.35,629.60 L544.85,630.60 L544.35,631.60 L543.85,632.60 L543.34,633.60 L542.83,634.60 L542.33,635.60 L541.83,636.60 L541.34,637.60 L540.86,638.60 L540.38,639.60 L539.91,640.60 L539.44,641.60 L538.98,642.60 L538.54,643.60 L538.11,644.60 L537.70,645.60 L537.29,646.60 L536.89,647.60 L536.50,648.60 L536.13,649.60 L535.78,650.60 L535.45,651.60 L535.15,652.60 L534.85,653.60 L534.56,654.60 L534.28,655.60 L534.03,656.60 L533.82,657.60 L533.66,658.60 L533.55,659.60 L533.46,660.60 L533.38,661.60 L533.31,662.60 L533.26,663.60 L533.23,664.60 L533.23,665.00 L598.37,665.00 L598.37,664.60 L598.34,663.60 L598.29,662.60 L598.22,661.60 L598.14,660.60 L598.05,659.60 L597.94,658.60 L597.78,657.60 L597.57,656.60 L597.32,655.60 L597.04,654.60 L596.75,653.60 L596.45,652.60 L596.15,651.60 L595.82,650.60 L595.47,649.60 L595.10,648.60 L594.71,647.60 L594.31,646.60 L593.90,645.60 L593.49,644.60 L593.06,643.60 L592.62,642.60 L592.16,641.60 L591.69,640.60 L591.22,639.60 L590.74,638.60 L590.26,637.60 L589.77,636.60 L589.27,635.60 L588.77,634.60 L588.26,633.60 L587.75,632.60 L587.25,631.60 L586.75,630.60 L586.25,629.60 L585.75,628.60 L585.26,627.60 L584.76,626.60 L584.27,625.60 L583.79,624.60 L583.31,623.60 L582.84,622.60 L582.37,621.60 L581.90,620.60 L581.45,619.60 L581.00,618.60 L580.56,617.60 L580.13,616.60 L579.71,615.60 L579.29,614.60 L578.88,613.60 L578.48,612.60 L578.10,611.60 L577.72,610.60 L577.36,609.60 L577.01,608.60 L576.67,607.60 L576.33,606.60 L576.01,605.60 L575.69,604.60 L575.38,603.60 L575.08,602.60 L574.78,601.60 L574.49,600.60 L574.20,599.60 L573.92,598.60 L573.64,597.60 L573.37,596.60 L573.09,595.60 L572.80,594.60 L572.52,593.60 L572.24,592.60 L571.96,591.60 L571.69,590.60 L571.44,589.60 L571.21,588.60 L570.99,587.60 L570.77,586.60 L570.57,585.60 L570.37,584.60 L570.18,583.60 L570.00,582.60 L569.83,581.60 L569.66,580.60 L569.49,579.60 L569.33,578.60 L569.18,577.60 L569.04,576.60 L568.92,575.60 L568.81,574.60 L568.71,573.60 L568.61,572.60 L568.52,571.60 L568.44,570.60 L568.38,569.60 L568.32,568.60 L568.29,567.60 L568.25,566.60 L568.22,565.60 L568.20,564.60 L568.18,563.60 L568.16,562.60 L568.15,561.60 L568.15,560.60 L568.15,559.60 L568.16,558.60 L568.17,557.60 L568.18,556.60 L568.20,555.60 L568.21,554.60 L568.23,553.60 L568.24,552.60 L568.27,551.60 L568.29,550.60 L568.32,549.60 L568.35,548.60 L568.38,547.60 L568.41,546.60 L568.44,545.60 L568.48,544.60 L568.51,543.60 L568.55,542.60 L568.59,541.60 L568.63,540.60 L568.67,539.60 L568.70,538.60 L568.74,537.60 L568.78,536.60 L568.83,535.60 L568.87,534.60 L568.91,533.60 L568.95,532.60 L568.99,531.60 L569.04,530.60 L569.08,529.60 L569.13,528.60 L569.17,527.60 L569.22,526.60 L569.27,525.60 L569.32,524.60 L569.37,523.60 L569.42,522.60 L569.47,521.60 L569.53,520.60 L569.58,519.60 L569.64,518.60 L569.69,517.60 L569.75,516.60 L569.80,515.60 L569.86,514.60 L569.91,513.60 L569.97,512.60 L570.02,511.60 L570.08,510.60 L570.13,509.60 L570.19,508.60 L570.24,507.60 L570.30,506.60 L570.35,505.60 L570.41,504.60 L570.46,503.60 L570.52,502.60 L570.57,501.60 L570.62,500.60 L570.67,499.60 L570.72,498.60 L570.77,497.60 L570.82,496.60 L570.87,495.60 L570.92,494.60 L570.97,493.60 L571.01,492.60 L571.06,491.60 L571.11,490.60 L571.15,489.60 L571.19,488.60 L571.23,487.60 L571.27,486.60 L571.30,485.60 L571.33,484.60 L571.36,483.60 L571.38,482.60 L571.41,481.60 L571.43,480.60 L571.45,479.60 L571.47,478.60 L571.49,477.60 L571.50,476.60 L571.52,475.60 L571.53,474.60 L571.55,473.60 L571.56,472.60 L571.58,471.60 L571.59,470.60 L571.61,469.60 L571.62,468.60 L571.63,467.60 L571.65,466.60 L571.66,465.60 L571.68,464.60 L571.69,463.60 L571.70,462.60 L571.72,461.60 L571.73,460.60 L571.73,459.60 L571.74,458.60 L571.75,457.60 L571.75,456.60 L571.75,455.60 L571.75,454.60 L571.74,453.60 L571.73,452.60 L571.72,451.60 L571.71,450.60 L571.70,449.60 L571.68,448.60 L571.67,447.60 L571.66,446.60 L571.64,445.60 L571.63,444.60 L571.62,443.60 L571.61,442.60 L571.60,441.60 L571.59,440.60 L571.58,439.60 L571.58,438.60 L571.57,437.60 L571.56,436.60 L571.56,435.60 L571.55,434.60 L571.55,433.60 L571.54,432.60 L571.53,431.60 L571.52,430.60 L571.52,429.60 L571.51,428.60 L571.50,427.60 L571.48,426.60 L571.46,425.60 L571.44,424.60 L571.42,423.60 L571.40,422.60 L571.37,421.60 L571.35,420.60 L571.32,419.60 L571.29,418.60 L571.27,417.60 L571.25,416.60 L571.23,415.60 L571.21,414.60 L571.19,413.60 L571.18,412.60 L571.17,411.60 L571.16,410.60 L571.15,409.60 L571.14,408.60 L571.13,407.60 L571.12,406.60 L571.11,405.60 L571.10,404.60 L571.09,403.60 L571.08,402.60 L571.07,401.60 L571.06,400.60 L571.04,399.60 L571.03,398.60 L571.02,397.60 L571.00,396.60 L570.98,395.60 L570.97,394.60 L570.95,393.60 L570.93,392.60 L570.91,391.60 L570.90,390.60 L570.88,389.60 L570.86,388.60 L570.84,387.60 L570.82,386.60 L570.80,385.60 L570.78,384.60 L570.75,383.60 L570.73,382.60 L570.71,381.60 L570.69,380.60 L570.67,379.60 L570.65,378.60 L570.62,377.60 L570.60,376.60 L570.58,375.60 L570.56,374.60 L570.54,373.60 L570.51,372.60 L570.49,371.60 L570.47,370.60 L570.45,369.60 L570.42,368.60 L570.40,367.60 L570.38,366.60 L570.35,365.60 L570.33,364.60 L570.31,363.60 L570.28,362.60 L570.26,361.60 L570.24,360.60 L570.21,359.60 L570.19,358.60 L570.16,357.60 L570.14,356.60 L570.11,355.60 L570.09,354.60 L570.06,353.60 L570.03,352.60 L570.01,351.60 L569.98,350.60 L569.95,349.60 L569.93,348.60 L569.90,347.60 L569.87,346.60 L569.84,345.60 L569.82,344.60 L569.79,343.60 L569.76,342.60 L569.73,341.60 L569.70,340.60 L569.68,339.60 L569.65,338.60 L569.62,337.60 L569.59,336.60 L569.56,335.60 L569.53,334.60 L569.50,333.60 L569.47,332.60 L569.44,331.60 L569.41,330.60 L569.38,329.60 L569.34,328.60 L569.31,327.60 L569.28,326.60 L569.25,325.60 L569.21,324.60 L569.18,323.60 L569.14,322.60 L569.11,321.60 L569.07,320.60 L569.04,319.60 L569.00,318.60 L568.96,317.60 L568.92,316.60 L568.88,315.60 L568.84,314.60 L568.80,313.60 L568.76,312.60 L568.72,311.60 L568.67,310.60 L568.63,309.60 L568.58,308.60 L568.54,307.60 L568.49,306.60 L568.44,305.60 L568.39,304.60 L568.34,303.60 L568.29,302.60 L568.24,301.60 L568.19,300.60 L568.14,299.60 L568.08,298.60 L568.03,297.60 L567.97,296.60 L567.92,295.60 L567.86,294.60 L567.81,293.60 L567.75,292.60Z" fill="#00B0F6"/>
<path d="M638.00,185.05 L638.00,186.05 L637.99,187.05 L637.99,188.05 L637.99,189.05 L637.98,190.05 L637.98,191.05 L637.97,192.05 L637.97,193.05 L637.97,194.05 L637.96,195.05 L637.96,196.05 L637.95,197.05 L637.95,198.05 L637.95,199.05 L637.94,200.05 L637.94,201.05 L637.93,202.05 L637.93,203.05 L637.92,204.05 L637.92,205.05 L637.92,206.05 L637.91,207.05 L637.91,208.05 L637.90,209.05 L637.90,210.05 L637.89,211.05 L637.89,212.05 L637.88,213.05 L637.88,214.05 L637.87,215.05 L637.87,216.05 L637.87,217.05 L637.86,218.05 L637.86,219.05 L637.85,220.05 L637.85,221.05 L637.84,222.05 L637.84,223.05 L637.83,224.05 L637.83,225.05 L637.82,226.05 L637.82,227.05 L637.81,228.05 L637.81,229.05 L637.80,230.05 L637.80,231.05 L637.79,232.05 L637.79,233.05 L637.78,234.05 L637.78,235.05 L637.77,236.05 L637.77,237.05 L637.76,238.05 L637.76,239.05 L637.75,240.05 L637.74,241.05 L637.74,242.05 L637.73,243.05 L637.73,244.05 L637.72,245.05 L637.72,246.05 L637.71,247.05 L637.71,248.05 L637.71,249.05 L637.70,250.05 L637.70,251.05 L637.69,252.05 L637.69,253.05 L637.68,254.05 L637.68,255.05 L637.67,256.05 L637.67,257.05 L637.66,258.05 L637.66,259.05 L637.65,260.05 L637.65,261.05 L637.64,262.05 L637.64,263.05 L637.63,264.05 L637.63,265.05 L637.62,266.05 L637.62,267.05 L637.61,268.05 L637.60,269.05 L637.60,270.05 L637.59,271.05 L637.59,272.05 L637.58,273.05 L637.57,274.05 L637.56,275.05 L637.56,276.05 L637.55,277.05 L637.54,278.05 L637.53,279.05 L637.53,280.05 L637.52,281.05 L637.51,282.05 L637.50,283.05 L637.49,284.05 L637.48,285.05 L637.47,286.05 L637.46,287.05 L637.45,288.05 L637.44,289.05 L637.42,290.05 L637.41,291.05 L637.39,292.05 L637.37,293.05 L637.35,294.05 L637.32,295.05 L637.30,296.05 L637.27,297.05 L637.25,298.05 L637.22,299.05 L637.20,300.05 L637.17,301.05 L637.15,302.05 L637.12,303.05 L637.10,304.05 L637.07,305.05 L637.05,306.05 L637.02,307.05 L636.99,308.05 L636.97,309.05 L636.94,310.05 L636.91,311.05 L636.88,312.05 L636.85,313.05 L636.81,314.05 L636.78,315.05 L636.75,316.05 L636.71,317.05 L636.68,318.05 L636.64,319.05 L636.60,320.05 L636.56,321.05 L636.52,322.05 L636.47,323.05 L636.43,324.05 L636.38,325.05 L636.34,326.05 L636.29,327.05 L636.24,328.05 L636.20,329.05 L636.15,330.05 L636.10,331.05 L636.05,332.05 L635.99,333.05 L635.94,334.05 L635.88,335.05 L635.82,336.05 L635.76,337.05 L635.71,338.05 L635.65,339.05 L635.59,340.05 L635.53,341.05 L635.47,342.05 L635.41,343.05 L635.35,344.05 L635.29,345.05 L635.23,346.05 L635.17,347.05 L635.11,348.05 L635.05,349.05 L634.99,350.05 L634.93,351.05 L634.87,352.05 L634.81,353.05 L634.75,354.05 L634.69,355.05 L634.63,356.05 L634.56,357.05 L634.50,358.05 L634.43,359.05 L634.36,360.05 L634.29,361.05 L634.22,362.05 L634.15,363.05 L634.08,364.05 L634.00,365.05 L633.93,366.05 L633.86,367.05 L633.78,368.05 L633.71,369.05 L633.64,370.05 L633.57,371.05 L633.50,372.05 L633.43,373.05 L633.36,374.05 L633.29,375.05 L633.23,376.05 L633.16,377.05 L633.10,378.05 L633.03,379.05 L632.96,380.05 L632.90,381.05 L632.83,382.05 L632.76,383.05 L632.69,384.05 L632.62,385.05 L632.55,386.05 L632.47,387.05 L632.39,388.05 L632.31,389.05 L632.23,390.05 L632.14,391.05 L632.06,392.05 L631.97,393.05 L631.88,394.05 L631.80,395.05 L631.71,396.05 L631.63,397.05 L631.55,398.05 L631.47,399.05 L631.40,400.05 L631.32,401.05 L631.25,402.05 L631.17,403.05 L631.09,404.05 L631.02,405.05 L630.95,406.05 L630.87,407.05 L630.80,408.05 L630.74,409.05 L630.67,410.05 L630.61,411.05 L630.55,412.05 L630.50,413.05 L630.45,414.05 L630.40,415.05 L630.35,416.05 L630.31,417.05 L630.26,418.05 L630.22,419.05 L630.18,420.05 L630.14,421.05 L630.10,422.05 L630.06,423.05 L630.03,424.05 L630.00,425.05 L629.98,426.05 L629.96,427.05 L629.95,428.05 L629.94,429.05 L629.93,430.05 L629.92,431.05 L629.91,432.05 L629.91,433.05 L629.90,434.05 L629.90,435.05 L629.91,436.05 L629.93,437.05 L629.96,438.05 L630.01,439.05 L630.05,440.05 L630.10,441.05 L630.15,442.05 L630.21,443.05 L630.27,444.05 L630.34,445.05 L630.41,446.05 L630.49,447.05 L630.58,448.05 L630.67,449.05 L630.76,450.05 L630.86,451.05 L630.96,452.05 L631.06,453.05 L631.16,454.05 L631.26,455.05 L631.35,456.05 L631.46,457.05 L631.56,458.05 L631.67,459.05 L631.78,460.05 L631.89,461.05 L632.01,462.05 L632.13,463.05 L632.25,464.05 L632.37,465.05 L632.49,466.05 L632.60,467.05 L632.72,468.05 L632.84,469.05 L632.96,470.05 L633.07,471.05 L633.19,472.05 L633.30,473.05 L633.42,474.05 L633.54,475.05 L633.65,476.05 L633.77,477.05 L633.88,478.05 L634.00,479.05 L634.11,480.05 L634.23,481.05 L634.34,482.05 L634.45,483.05 L634.56,484.05 L634.66,485.05 L634.77,486.05 L634.87,487.05 L634.98,488.05 L635.08,489.05 L635.18,490.05 L635.28,491.05 L635.38,492.05 L635.48,493.05 L635.58,494.05 L635.67,495.05 L635.77,496.05 L635.86,497.05 L635.95,498.05 L636.05,499.05 L636.13,500.05 L636.22,501.05 L636.31,502.05 L636.39,503.05 L636.47,504.05 L636.55,505.05 L636.63,506.05 L636.71,507.05 L636.78,508.05 L636.85,509.05 L636.92,510.05 L636.99,511.05 L637.05,512.05 L637.12,513.05 L637.18,514.05 L637.24,515.05 L637.29,516.05 L637.35,517.05 L637.40,518.05 L637.45,519.05 L637.50,520.05 L637.55,521.05 L637.60,522.05 L637.65,523.05 L637.69,524.05 L637.72,525.05 L637.75,526.05 L637.78,527.05 L637.80,528.05 L637.82,529.05 L637.84,530.05 L637.86,531.05 L637.87,532.05 L637.89,533.05 L637.89,534.05 L637.90,535.05 L637.90,536.05 L637.91,537.05 L637.91,538.05 L637.91,539.05 L637.92,540.05 L637.92,541.05 L637.92,542.05 L637.92,543.05 L637.93,544.05 L637.93,545.05 L637.93,546.05 L637.93,547.05 L637.93,548.05 L637.94,549.05 L637.94,550.05 L637.94,551.05 L637.94,552.05 L637.94,553.05 L637.94,554.05 L637.94,555.05 L637.95,556.05 L637.95,557.05 L637.95,558.05 L637.95,559.05 L637.95,560.05 L637.95,561.05 L637.95,562.05 L637.95,563.05 L637.95,564.05 L637.95,565.05 L637.95,566.05 L637.95,567.05 L637.94,568.05 L637.93,569.05 L637.92,570.05 L637.91,571.05 L637.90,572.05 L637.88,573.05 L637.87,574.05 L637.85,575.05 L637.83,576.05 L637.81,577.05 L637.79,578.05 L637.77,579.05 L637.75,580.05 L637.72,581.05 L637.69,582.05 L637.65,583.05 L637.61,584.05 L637.56,585.05 L637.51,586.05 L637.46,587.05 L637.40,588.05 L637.35,589.05 L637.29,590.05 L637.23,591.05 L637.16,592.05 L637.09,593.05 L637.01,594.05 L636.93,595.05 L636.85,596.05 L636.75,597.05 L636.65,598.05 L636.55,599.05 L636.43,600.05 L636.31,601.05 L636.18,602.05 L636.04,603.05 L635.89,604.05 L635.73,605.05 L635.55,606.05 L635.36,607.05 L635.16,608.05 L634.96,609.05 L634.74,610.05 L634.51,611.05 L634.28,612.05 L634.02,613.05 L633.76,614.05 L633.47,615.05 L633.16,616.05 L632.83,617.05 L632.46,618.05 L632.05,619.05 L631.60,620.05 L631.13,621.05 L630.64,622.05 L630.13,623.05 L629.62,624.05 L629.11,625.05 L628.58,626.05 L628.04,627.05 L627.47,628.05 L626.89,629.05 L626.30,630.05 L625.68,631.05 L625.04,632.05 L624.37,633.05 L623.68,634.05 L622.97,635.05 L622.25,636.05 L621.52,637.05 L620.79,638.05 L620.05,639.05 L619.30,640.05 L618.54,641.05 L617.77,642.05 L617.01,643.05 L616.24,644.05 L615.49,645.05 L614.73,646.05 L613.95,647.05 L613.17,648.05 L612.40,649.05 L611.66,650.05 L610.95,651.05 L610.28,652.05 L609.67,653.05 L609.09,654.05 L608.55,655.05 L608.02,656.05 L607.49,657.05 L606.97,658.05 L606.57,659.05 L606.26,660.05 L606.02,661.05 L605.84,662.05 L605.72,663.05 L605.62,664.05 L605.58,665.00 L670.72,665.00 L670.68,664.05 L670.58,663.05 L670.46,662.05 L670.28,661.05 L670.04,660.05 L669.73,659.05 L669.33,658.05 L668.81,657.05 L668.28,656.05 L667.75,655.05 L667.21,654.05 L666.63,653.05 L666.02,652.05 L665.35,651.05 L664.64,650.05 L663.90,649.05 L663.13,648.05 L662.35,647.05 L661.57,646.05 L660.81,645.05 L660.06,644.05 L659.29,643.05 L658.53,642.05 L657.76,641.05 L657.00,640.05 L656.25,639.05 L655.51,638.05 L654.78,637.05 L654.05,636.05 L653.33,635.05 L652.62,634.05 L651.93,633.05 L651.26,632.05 L650.62,631.05 L650.00,630.05 L649.41,629.05 L648.83,628.05 L648.26,627.05 L647.72,626.05 L647.19,625.05 L646.68,624.05 L646.17,623.05 L645.66,622.05 L645.17,621.05 L644.70,620.05 L644.25,619.05 L643.84,618.05 L643.47,617.05 L643.14,616.05 L642.83,615.05 L642.54,614.05 L642.28,613.05 L642.02,612.05 L641.79,611.05 L641.56,610.05 L641.34,609.05 L641.14,608.05 L640.94,607.05 L640.75,606.05 L640.57,605.05 L640.41,604.05 L640.26,603.05 L640.12,602.05 L639.99,601.05 L639.87,600.05 L639.75,599.05 L639.65,598.05 L639.55,597.05 L639.45,596.05 L639.37,595.05 L639.29,594.05 L639.21,593.05 L639.14,592.05 L639.07,591.05 L639.01,590.05 L638.95,589.05 L638.90,588.05 L638.84,587.05 L638.79,586.05 L638.74,585.05 L638.69,584.05 L638.65,583.05 L638.61,582.05 L638.58,581.05 L638.55,580.05 L638.53,579.05 L638.51,578.05 L638.49,577.05 L638.47,576.05 L638.45,575.05 L638.43,574.05 L638.42,573.05 L638.40,572.05 L638.39,571.05 L638.38,570.05 L638.37,569.05 L638.36,568.05 L638.35,567.05 L638.35,566.05 L638.35,565.05 L638.35,564.05 L638.35,563.05 L638.35,562.05 L638.35,561.05 L638.35,560.05 L638.35,559.05 L638.35,558.05 L638.35,557.05 L638.35,556.05 L638.36,555.05 L638.36,554.05 L638.36,553.05 L638.36,552.05 L638.36,551.05 L638.36,550.05 L638.36,549.05 L638.37,548.05 L638.37,547.05 L638.37,546.05 L638.37,545.05 L638.37,544.05 L638.38,543.05 L638.38,542.05 L638.38,541.05 L638.38,540.05 L638.39,539.05 L638.39,538.05 L638.39,537.05 L638.40,536.05 L638.40,535.05 L638.41,534.05 L638.41,533.05 L638.43,532.05 L638.44,531.05 L638.46,530.05 L638.48,529.05 L638.50,528.05 L638.52,527.05 L638.55,526.05 L638.58,525.05 L638.61,524.05 L638.65,523.05 L638.70,522.05 L638.75,521.05 L638.80,520.05 L638.85,519.05 L638.90,518.05 L638.95,517.05 L639.01,516.05 L639.06,515.05 L639.12,514.05 L639.18,513.05 L639.25,512.05 L639.31,511.05 L639.38,510.05 L639.45,509.05 L639.52,508.05 L639.59,507.05 L639.67,506.05 L639.75,505.05 L639.83,504.05 L639.91,503.05 L639.99,502.05 L640.08,501.05 L640.17,500.05 L640.25,499.05 L640.35,498.05 L640.44,497.05 L640.53,496.05 L640.63,495.05 L640.72,494.05 L640.82,493.05 L640.92,492.05 L641.02,491.05 L641.12,490.05 L641.22,489.05 L641.32,488.05 L641.43,487.05 L641.53,486.05 L641.64,485.05 L641.74,484.05 L641.85,483.05 L641.96,482.05 L642.07,481.05 L642.19,480.05 L642.30,479.05 L642.42,478.05 L642.53,477.05 L642.65,476.05 L642.76,475.05 L642.88,474.05 L643.00,473.05 L643.11,472.05 L643.23,471.05 L643.34,470.05 L643.46,469.05 L643.58,468.05 L643.70,467.05 L643.81,466.05 L643.93,465.05 L644.05,464.05 L644.17,463.05 L644.29,462.05 L644.41,461.05 L644.52,460.05 L644.63,459.05 L644.74,458.05 L644.84,457.05 L644.95,456.05 L645.04,455.05 L645.14,454.05 L645.24,453.05 L645.34,452.05 L645.44,451.05 L645.54,450.05 L645.63,449.05 L645.72,448.05 L645.81,447.05 L645.89,446.05 L645.96,445.05 L646.03,444.05 L646.09,443.05 L646.15,442.05 L646.20,441.05 L646.25,440.05 L646.29,439.05 L646.34,438.05 L646.37,437.05 L646.39,436.05 L646.40,435.05 L646.40,434.05 L646.39,433.05 L646.39,432.05 L646.38,431.05 L646.37,430.05 L646.36,429.05 L646.35,428.05 L646.34,427.05 L646.32,426.05 L646.30,425.05 L646.27,424.05 L646.24,423.05 L646.20,422.05 L646.16,421.05 L646.12,420.05 L646.08,419.05 L646.04,418.05 L645.99,417.05 L645.95,416.05 L645.90,415.05 L645.85,414.05 L645.80,413.05 L645.75,412.05 L645.69,411.05 L645.63,410.05 L645.56,409.05 L645.50,408.05 L645.43,407.05 L645.35,406.05 L645.28,405.05 L645.21,404.05 L645.13,403.05 L645.05,402.05 L644.98,401.05 L644.90,400.05 L644.83,399.05 L644.75,398.05 L644.67,397.05 L644.59,396.05 L644.50,395.05 L644.42,394.05 L644.33,393.05 L644.24,392.05 L644.16,391.05 L644.07,390.05 L643.99,389.05 L643.91,388.05 L643.83,387.05 L643.75,386.05 L643.68,385.05 L643.61,384.05 L643.54,383.05 L643.47,382.05 L643.40,381.05 L643.34,380.05 L643.27,379.05 L643.20,378.05 L643.14,377.05 L643.07,376.05 L643.01,375.05 L642.94,374.05 L642.87,373.05 L642.80,372.05 L642.73,371.05 L642.66,370.05 L642.59,369.05 L642.52,368.05 L642.44,367.05 L642.37,366.05 L642.30,365.05 L642.22,364.05 L642.15,363.05 L642.08,362.05 L642.01,361.05 L641.94,360.05 L641.87,359.05 L641.80,358.05 L641.74,357.05 L641.67,356.05 L641.61,355.05 L641.55,354.05 L641.49,353.05 L641.43,352.05 L641.37,351.05 L641.31,350.05 L641.25,349.05 L641.19,348.05 L641.13,347.05 L641.07,346.05 L641.01,345.05 L640.95,344.05 L640.89,343.05 L640.83,342.05 L640.77,341.05 L640.71,340.05 L640.65,339.05 L640.59,338.05 L640.54,337.05 L640.48,336.05 L640.42,335.05 L640.36,334.05 L640.31,333.05 L640.25,332.05 L640.20,331.05 L640.15,330.05 L640.10,329.05 L640.06,328.05 L640.01,327.05 L639.96,326.05 L639.92,325.05 L639.87,324.05 L639.83,323.05 L639.78,322.05 L639.74,321.05 L639.70,320.05 L639.66,319.05 L639.62,318.05 L639.59,317.05 L639.55,316.05 L639.52,315.05 L639.49,314.05 L639.45,313.05 L639.42,312.05 L639.39,311.05 L639.36,310.05 L639.33,309.05 L639.31,308.05 L639.28,307.05 L639.25,306.05 L639.23,305.05 L639.20,304.05 L639.18,303.05 L639.15,302.05 L639.13,301.05 L639.10,300.05 L639.08,299.05 L639.05,298.05 L639.03,297.05 L639.00,296.05 L638.98,295.05 L638.95,294.05 L638.93,293.05 L638.91,292.05 L638.89,291.05 L638.88,290.05 L638.86,289.05 L638.85,288.05 L638.84,287.05 L638.83,286.05 L638.82,285.05 L638.81,284.05 L638.80,283.05 L638.79,282.05 L638.78,281.05 L638.77,280.05 L638.77,279.05 L638.76,278.05 L638.75,277.05 L638.74,276.05 L638.74,275.05 L638.73,274.05 L638.72,273.05 L638.71,272.05 L638.71,271.05 L638.70,270.05 L638.70,269.05 L638.69,268.05 L638.68,267.05 L638.68,266.05 L638.67,265.05 L638.67,264.05 L638.66,263.05 L638.66,262.05 L638.65,261.05 L638.65,260.05 L638.64,259.05 L638.64,258.05 L638.63,257.05 L638.63,256.05 L638.62,255.05 L638.62,254.05 L638.61,253.05 L638.61,252.05 L638.60,251.05 L638.60,250.05 L638.59,249.05 L638.59,248.05 L638.59,247.05 L638.58,246.05 L638.58,245.05 L638.57,244.05 L638.57,243.05 L638.56,242.05 L638.56,241.05 L638.55,240.05 L638.54,239.05 L638.54,238.05 L638.53,237.05 L638.53,236.05 L638.52,235.05 L638.52,234.05 L638.51,233.05 L638.51,232.05 L638.50,231.05 L638.50,230.05 L638.49,229.05 L638.49,228.05 L638.48,227.05 L638.48,226.05 L638.47,225.05 L638.47,224.05 L638.46,223.05 L638.46,222.05 L638.45,221.05 L638.45,220.05 L638.44,219.05 L638.44,218.05 L638.43,217.05 L638.43,216.05 L638.43,215.05 L638.42,214.05 L638.42,213.05 L638.41,212.05 L638.41,211.05 L638.40,210.05 L638.40,209.05 L638.39,208.05 L638.39,207.05 L638.38,206.05 L638.38,205.05 L638.38,204.05 L638.37,203.05 L638.37,202.05 L638.36,201.05 L638.36,200.05 L638.35,199.05 L638.35,198.05 L638.35,197.05 L638.34,196.05 L638.34,195.05 L638.33,194.05 L638.33,193.05 L638.33,192.05 L638.32,191.05 L638.32,190.05 L638.31,189.05 L638.31,188.05 L638.31,187.05 L638.30,186.05 L638.30,185.05Z" fill="#9590FF"/>
<path d="M709.10,362.35 L709.08,363.35 L709.07,364.35 L709.05,365.35 L709.03,366.35 L709.01,367.35 L708.98,368.35 L708.96,369.35 L708.93,370.35 L708.91,371.35 L708.88,372.35 L708.85,373.35 L708.82,374.35 L708.79,375.35 L708.76,376.35 L708.72,377.35 L708.69,378.35 L708.65,379.35 L708.61,380.35 L708.57,381.35 L708.52,382.35 L708.48,383.35 L708.43,384.35 L708.38,385.35 L708.33,386.35 L708.28,387.35 L708.22,388.35 L708.16,389.35 L708.10,390.35 L708.04,391.35 L707.98,392.35 L707.91,393.35 L707.84,394.35 L707.78,395.35 L707.70,396.35 L707.63,397.35 L707.55,398.35 L707.47,399.35 L707.39,400.35 L707.31,401.35 L707.22,402.35 L707.14,403.35 L707.06,404.35 L706.97,405.35 L706.89,406.35 L706.80,407.35 L706.71,408.35 L706.63,409.35 L706.54,410.35 L706.45,411.35 L706.35,412.35 L706.26,413.35 L706.16,414.35 L706.07,415.35 L705.96,416.35 L705.86,417.35 L705.75,418.35 L705.64,419.35 L705.53,420.35 L705.41,421.35 L705.30,422.35 L705.19,423.35 L705.07,424.35 L704.96,425.35 L704.85,426.35 L704.74,427.35 L704.63,428.35 L704.52,429.35 L704.41,430.35 L704.29,431.35 L704.18,432.35 L704.06,433.35 L703.93,434.35 L703.80,435.35 L703.67,436.35 L703.53,437.35 L703.39,438.35 L703.25,439.35 L703.10,440.35 L702.95,441.35 L702.80,442.35 L702.64,443.35 L702.48,444.35 L702.32,445.35 L702.15,446.35 L701.98,447.35 L701.81,448.35 L701.64,449.35 L701.46,450.35 L701.28,451.35 L701.09,452.35 L700.91,453.35 L700.72,454.35 L700.52,455.35 L700.33,456.35 L700.14,457.35 L699.94,458.35 L699.74,459.35 L699.54,460.35 L699.34,461.35 L699.14,462.35 L698.94,463.35 L698.73,464.35 L698.53,465.35 L698.33,466.35 L698.13,467.35 L697.93,468.35 L697.73,469.35 L697.53,470.35 L697.33,471.35 L697.13,472.35 L696.93,473.35 L696.73,474.35 L696.53,475.35 L696.33,476.35 L696.13,477.35 L695.94,478.35 L695.74,479.35 L695.55,480.35 L695.37,481.35 L695.19,482.35 L695.01,483.35 L694.84,484.35 L694.67,485.35 L694.50,486.35 L694.33,487.35 L694.17,488.35 L694.00,489.35 L693.84,490.35 L693.68,491.35 L693.53,492.35 L693.38,493.35 L693.24,494.35 L693.11,495.35 L692.98,496.35 L692.87,497.35 L692.76,498.35 L692.66,499.35 L692.56,500.35 L692.46,501.35 L692.36,502.35 L692.27,503.35 L692.18,504.35 L692.10,505.35 L692.02,506.35 L691.94,507.35 L691.88,508.35 L691.82,509.35 L691.77,510.35 L691.72,511.35 L691.69,512.35 L691.66,513.35 L691.63,514.35 L691.60,515.35 L691.58,516.35 L691.56,517.35 L691.55,518.35 L691.55,519.35 L691.56,520.35 L691.59,521.35 L691.62,522.35 L691.66,523.35 L691.71,524.35 L691.76,525.35 L691.82,526.35 L691.90,527.35 L691.99,528.35 L692.10,529.35 L692.23,530.35 L692.36,531.35 L692.51,532.35 L692.65,533.35 L692.82,534.35 L693.00,535.35 L693.20,536.35 L693.41,537.35 L693.63,538.35 L693.85,539.35 L694.08,540.35 L694.32,541.35 L694.57,542.35 L694.83,543.35 L695.09,544.35 L695.36,545.35 L695.63,546.35 L695.89,547.35 L696.16,548.35 L696.44,549.35 L696.71,550.35 L696.99,551.35 L697.26,552.35 L697.53,553.35 L697.79,554.35 L698.05,555.35 L698.30,556.35 L698.55,557.35 L698.80,558.35 L699.05,559.35 L699.29,560.35 L699.54,561.35 L699.78,562.35 L700.03,563.35 L700.27,564.35 L700.51,565.35 L700.74,566.35 L700.96,567.35 L701.17,568.35 L701.37,569.35 L701.56,570.35 L701.74,571.35 L701.92,572.35 L702.09,573.35 L702.25,574.35 L702.40,575.35 L702.55,576.35 L702.70,577.35 L702.85,578.35 L702.98,579.35 L703.10,580.35 L703.20,581.35 L703.28,582.35 L703.35,583.35 L703.42,584.35 L703.48,585.35 L703.53,586.35 L703.57,587.35 L703.60,588.35 L703.60,589.35 L703.57,590.35 L703.52,591.35 L703.45,592.35 L703.36,593.35 L703.27,594.35 L703.17,595.35 L703.06,596.35 L702.94,597.35 L702.79,598.35 L702.62,599.35 L702.43,600.35 L702.23,601.35 L702.03,602.35 L701.83,603.35 L701.62,604.35 L701.39,605.35 L701.15,606.35 L700.90,607.35 L700.63,608.35 L700.35,609.35 L700.04,610.35 L699.70,611.35 L699.32,612.35 L698.92,613.35 L698.50,614.35 L698.06,615.35 L697.60,616.35 L697.13,617.35 L696.64,618.35 L696.11,619.35 L695.55,620.35 L694.99,621.35 L694.42,622.35 L693.86,623.35 L693.31,624.35 L692.76,625.35 L692.20,626.35 L691.65,627.35 L691.09,628.35 L690.54,629.35 L690.00,630.35 L689.47,631.35 L688.94,632.35 L688.41,633.35 L687.89,634.35 L687.37,635.35 L686.86,636.35 L686.37,637.35 L685.88,638.35 L685.40,639.35 L684.92,640.35 L684.45,641.35 L684.00,642.35 L683.55,643.35 L683.12,644.35 L682.70,645.35 L682.28,646.35 L681.88,647.35 L681.48,648.35 L681.10,649.35 L680.73,650.35 L680.39,651.35 L680.07,652.35 L679.75,653.35 L679.43,654.35 L679.11,655.35 L678.83,656.35 L678.58,657.35 L678.40,658.35 L678.28,659.35 L678.18,660.35 L678.09,661.35 L678.02,662.35 L677.97,663.35 L677.94,664.35 L677.93,665.00 L743.07,665.00 L743.06,664.35 L743.03,663.35 L742.98,662.35 L742.91,661.35 L742.82,660.35 L742.72,659.35 L742.60,658.35 L742.42,657.35 L742.17,656.35 L741.89,655.35 L741.57,654.35 L741.25,653.35 L740.93,652.35 L740.61,651.35 L740.27,650.35 L739.90,649.35 L739.52,648.35 L739.12,647.35 L738.72,646.35 L738.30,645.35 L737.88,644.35 L737.45,643.35 L737.00,642.35 L736.55,641.35 L736.08,640.35 L735.60,639.35 L735.12,638.35 L734.63,637.35 L734.14,636.35 L733.63,635.35 L733.11,634.35 L732.59,633.35 L732.06,632.35 L731.53,631.35 L731.00,630.35 L730.46,629.35 L729.91,628.35 L729.35,627.35 L728.80,626.35 L728.24,625.35 L727.69,624.35 L727.14,623.35 L726.58,622.35 L726.01,621.35 L725.45,620.35 L724.89,619.35 L724.36,618.35 L723.87,617.35 L723.40,616.35 L722.94,615.35 L722.50,614.35 L722.08,613.35 L721.68,612.35 L721.30,611.35 L720.96,610.35 L720.65,609.35 L720.37,608.35 L720.10,607.35 L719.85,606.35 L719.61,605.35 L719.38,604.35 L719.17,603.35 L718.97,602.35 L718.77,601.35 L718.57,600.35 L718.38,599.35 L718.21,598.35 L718.06,597.35 L717.94,596.35 L717.83,595.35 L717.73,594.35 L717.64,593.35 L717.55,592.35 L717.48,591.35 L717.43,590.35 L717.40,589.35 L717.40,588.35 L717.43,587.35 L717.47,586.35 L717.52,585.35 L717.58,584.35 L717.65,583.35 L717.72,582.35 L717.80,581.35 L717.90,580.35 L718.02,579.35 L718.15,578.35 L718.30,577.35 L718.45,576.35 L718.60,575.35 L718.75,574.35 L718.91,573.35 L719.08,572.35 L719.26,571.35 L719.44,570.35 L719.63,569.35 L719.83,568.35 L720.04,567.35 L720.26,566.35 L720.49,565.35 L720.73,564.35 L720.97,563.35 L721.22,562.35 L721.46,561.35 L721.71,560.35 L721.95,559.35 L722.20,558.35 L722.45,557.35 L722.70,556.35 L722.95,555.35 L723.21,554.35 L723.47,553.35 L723.74,552.35 L724.01,551.35 L724.29,550.35 L724.56,549.35 L724.84,548.35 L725.11,547.35 L725.37,546.35 L725.64,545.35 L725.91,544.35 L726.17,543.35 L726.43,542.35 L726.68,541.35 L726.92,540.35 L727.15,539.35 L727.37,538.35 L727.59,537.35 L727.80,536.35 L728.00,535.35 L728.18,534.35 L728.35,533.35 L728.49,532.35 L728.64,531.35 L728.77,530.35 L728.90,529.35 L729.01,528.35 L729.10,527.35 L729.18,526.35 L729.24,525.35 L729.29,524.35 L729.34,523.35 L729.38,522.35 L729.41,521.35 L729.44,520.35 L729.45,519.35 L729.45,518.35 L729.44,517.35 L729.42,516.35 L729.40,515.35 L729.37,514.35 L729.34,513.35 L729.31,512.35 L729.28,511.35 L729.23,510.35 L729.18,509.35 L729.12,508.35 L729.06,507.35 L728.98,506.35 L728.90,505.35 L728.82,504.35 L728.73,503.35 L728.64,502.35 L728.54,501.35 L728.44,500.35 L728.34,499.35 L728.24,498.35 L728.13,497.35 L728.02,496.35 L727.89,495.35 L727.76,494.35 L727.62,493.35 L727.47,492.35 L727.32,491.35 L727.16,490.35 L727.00,489.35 L726.83,488.35 L726.67,487.35 L726.50,486.35 L726.33,485.35 L726.16,484.35 L725.99,483.35 L725.81,482.35 L725.63,481.35 L725.45,480.35 L725.26,479.35 L725.06,478.35 L724.87,477.35 L724.67,476.35 L724.47,475.35 L724.27,474.35 L724.07,473.35 L723.87,472.35 L723.67,471.35 L723.47,470.35 L723.27,469.35 L723.07,468.35 L722.87,467.35 L722.67,466.35 L722.47,465.35 L722.27,464.35 L722.06,463.35 L721.86,462.35 L721.66,461.35 L721.46,460.35 L721.26,459.35 L721.06,458.35 L720.86,457.35 L720.67,456.35 L720.48,455.35 L720.28,454.35 L720.09,453.35 L719.91,452.35 L719.72,451.35 L719.54,450.35 L719.36,449.35 L719.19,448.35 L719.02,447.35 L718.85,446.35 L718.68,445.35 L718.52,444.35 L718.36,443.35 L718.20,442.35 L718.05,441.35 L717.90,440.35 L717.75,439.35 L717.61,438.35 L717.47,437.35 L717.33,436.35 L717.20,435.35 L717.07,434.35 L716.94,433.35 L716.82,432.35 L716.71,431.35 L716.59,430.35 L716.48,429.35 L716.37,428.35 L716.26,427.35 L716.15,426.35 L716.04,425.35 L715.93,424.35 L715.81,423.35 L715.70,422.35 L715.59,421.35 L715.47,420.35 L715.36,419.35 L715.25,418.35 L715.14,417.35 L715.04,416.35 L714.93,415.35 L714.84,414.35 L714.74,413.35 L714.65,412.35 L714.55,411.35 L714.46,410.35 L714.37,409.35 L714.29,408.35 L714.20,407.35 L714.11,406.35 L714.03,405.35 L713.94,404.35 L713.86,403.35 L713.78,402.35 L713.69,401.35 L713.61,400.35 L713.53,399.35 L713.45,398.35 L713.37,397.35 L713.30,396.35 L713.22,395.35 L713.16,394.35 L713.09,393.35 L713.02,392.35 L712.96,391.35 L712.90,390.35 L712.84,389.35 L712.78,388.35 L712.72,387.35 L712.67,386.35 L712.62,385.35 L712.57,384.35 L712.52,383.35 L712.48,382.35 L712.43,381.35 L712.39,380.35 L712.35,379.35 L712.31,378.35 L712.28,377.35 L712.24,376.35 L712.21,375.35 L712.18,374.35 L712.15,373.35 L712.12,372.35 L712.09,371.35 L712.07,370.35 L712.04,369.35 L712.02,368.35 L711.99,367.35 L711.97,366.35 L711.95,365.35 L711.93,364.35 L711.92,363.35 L711.90,362.35Z" fill="#E76BF3"/>
<path d="M782.15,130.55 L782.14,131.55 L782.13,132.55 L782.12,133.55 L782.11,134.55 L782.09,135.55 L782.08,136.55 L782.07,137.55 L782.05,138.55 L782.04,139.55 L782.02,140.55 L782.01,141.55 L781.99,142.55 L781.98,143.55 L781.96,144.55 L781.94,145.55 L781.93,146.55 L781.91,147.55 L781.89,148.55 L781.87,149.55 L781.85,150.55 L781.83,151.55 L781.81,152.55 L781.79,153.55 L781.77,154.55 L781.75,155.55 L781.72,156.55 L781.70,157.55 L781.67,158.55 L781.65,159.55 L781.62,160.55 L781.60,161.55 L781.57,162.55 L781.54,163.55 L781.51,164.55 L781.48,165.55 L781.45,166.55 L781.42,167.55 L781.39,168.55 L781.36,169.55 L781.32,170.55 L781.29,171.55 L781.25,172.55 L781.21,173.55 L781.17,174.55 L781.13,175.55 L781.09,176.55 L781.05,177.55 L781.01,178.55 L780.97,179.55 L780.93,180.55 L780.89,181.55 L780.85,182.55 L780.81,183.55 L780.77,184.55 L780.73,185.55 L780.69,186.55 L780.65,187.55 L780.61,188.55 L780.57,189.55 L780.53,190.55 L780.49,191.55 L780.45,192.55 L780.41,193.55 L780.38,194.55 L780.34,195.55 L780.30,196.55 L780.26,197.55 L780.22,198.55 L780.18,199.55 L780.15,200.55 L780.11,201.55 L780.07,202.55 L780.03,203.55 L779.99,204.55 L779.95,205.55 L779.91,206.55 L779.88,207.55 L779.84,208.55 L779.80,209.55 L779.76,210.55 L779.72,211.55 L779.68,212.55 L779.64,213.55 L779.59,214.55 L779.55,215.55 L779.51,216.55 L779.47,217.55 L779.43,218.55 L779.38,219.55 L779.34,220.55 L779.30,221.55 L779.25,222.55 L779.21,223.55 L779.16,224.55 L779.12,225.55 L779.07,226.55 L779.03,227.55 L778.98,228.55 L778.93,229.55 L778.89,230.55 L778.84,231.55 L778.79,232.55 L778.75,233.55 L778.70,234.55 L778.65,235.55 L778.60,236.55 L778.56,237.55 L778.51,238.55 L778.46,239.55 L778.41,240.55 L778.36,241.55 L778.32,242.55 L778.27,243.55 L778.22,244.55 L778.17,245.55 L778.12,246.55 L778.08,247.55 L778.03,248.55 L777.98,249.55 L777.93,250.55 L777.88,251.55 L777.83,252.55 L777.78,253.55 L777.73,254.55 L777.68,255.55 L777.63,256.55 L777.58,257.55 L777.53,258.55 L777.47,259.55 L777.42,260.55 L777.37,261.55 L777.31,262.55 L777.25,263.55 L777.20,264.55 L777.14,265.55 L777.08,266.55 L777.02,267.55 L776.97,268.55 L776.91,269.55 L776.85,270.55 L776.79,271.55 L776.73,272.55 L776.68,273.55 L776.62,274.55 L776.56,275.55 L776.51,276.55 L776.46,277.55 L776.41,278.55 L776.35,279.55 L776.30,280.55 L776.25,281.55 L776.19,282.55 L776.14,283.55 L776.08,284.55 L776.02,285.55 L775.95,286.55 L775.88,287.55 L775.81,288.55 L775.73,289.55 L775.65,290.55 L775.56,291.55 L775.46,292.55 L775.36,293.55 L775.26,294.55 L775.16,295.55 L775.05,296.55 L774.94,297.55 L774.83,298.55 L774.72,299.55 L774.61,300.55 L774.50,301.55 L774.39,302.55 L774.28,303.55 L774.16,304.55 L774.04,305.55 L773.93,306.55 L773.80,307.55 L773.68,308.55 L773.56,309.55 L773.43,310.55 L773.31,311.55 L773.18,312.55 L773.06,313.55 L772.93,314.55 L772.81,315.55 L772.68,316.55 L772.56,317.55 L772.43,318.55 L772.30,319.55 L772.17,320.55 L772.05,321.55 L771.92,322.55 L771.79,323.55 L771.66,324.55 L771.53,325.55 L771.40,326.55 L771.27,327.55 L771.14,328.55 L771.01,329.55 L770.88,330.55 L770.75,331.55 L770.61,332.55 L770.48,333.55 L770.34,334.55 L770.21,335.55 L770.08,336.55 L769.94,337.55 L769.81,338.55 L769.67,339.55 L769.54,340.55 L769.41,341.55 L769.28,342.55 L769.16,343.55 L769.03,344.55 L768.91,345.55 L768.79,346.55 L768.67,347.55 L768.55,348.55 L768.43,349.55 L768.32,350.55 L768.20,351.55 L768.09,352.55 L767.97,353.55 L767.86,354.55 L767.74,355.55 L767.62,356.55 L767.50,357.55 L767.38,358.55 L767.26,359.55 L767.14,360.55 L767.01,361.55 L766.89,362.55 L766.76,363.55 L766.64,364.55 L766.51,365.55 L766.39,366.55 L766.27,367.55 L766.15,368.55 L766.03,369.55 L765.91,370.55 L765.80,371.55 L765.69,372.55 L765.58,373.55 L765.47,374.55 L765.36,375.55 L765.26,376.55 L765.15,377.55 L765.05,378.55 L764.95,379.55 L764.85,380.55 L764.75,381.55 L764.66,382.55 L764.56,383.55 L764.47,384.55 L764.39,385.55 L764.30,386.55 L764.22,387.55 L764.14,388.55 L764.06,389.55 L763.98,390.55 L763.91,391.55 L763.83,392.55 L763.76,393.55 L763.69,394.55 L763.62,395.55 L763.55,396.55 L763.49,397.55 L763.43,398.55 L763.37,399.55 L763.32,400.55 L763.26,401.55 L763.21,402.55 L763.15,403.55 L763.09,404.55 L763.03,405.55 L762.98,406.55 L762.93,407.55 L762.88,408.55 L762.84,409.55 L762.81,410.55 L762.78,411.55 L762.76,412.55 L762.75,413.55 L762.75,414.55 L762.75,415.55 L762.75,416.55 L762.75,417.55 L762.75,418.55 L762.75,419.55 L762.75,420.55 L762.75,421.55 L762.75,422.55 L762.75,423.55 L762.75,424.55 L762.75,425.55 L762.75,426.55 L762.75,427.55 L762.75,428.55 L762.75,429.55 L762.75,430.55 L762.75,431.55 L762.75,432.55 L762.75,433.55 L762.75,434.55 L762.75,435.55 L762.75,436.55 L762.75,437.55 L762.75,438.55 L762.75,439.55 L762.75,440.55 L762.75,441.55 L762.75,442.55 L762.75,443.55 L762.76,444.55 L762.77,445.55 L762.78,446.55 L762.80,447.55 L762.81,448.55 L762.83,449.55 L762.85,450.55 L762.87,451.55 L762.89,452.55 L762.91,453.55 L762.93,454.55 L762.94,455.55 L762.96,456.55 L762.97,457.55 L762.99,458.55 L763.01,459.55 L763.02,460.55 L763.04,461.55 L763.05,462.55 L763.07,463.55 L763.09,464.55 L763.11,465.55 L763.13,466.55 L763.15,467.55 L763.17,468.55 L763.19,469.55 L763.21,470.55 L763.24,471.55 L763.27,472.55 L763.29,473.55 L763.33,474.55 L763.36,475.55 L763.39,476.55 L763.42,477.55 L763.46,478.55 L763.49,479.55 L763.53,480.55 L763.57,481.55 L763.60,482.55 L763.63,483.55 L763.67,484.55 L763.70,485.55 L763.74,486.55 L763.77,487.55 L763.80,488.55 L763.84,489.55 L763.87,490.55 L763.91,491.55 L763.94,492.55 L763.98,493.55 L764.01,494.55 L764.05,495.55 L764.09,496.55 L764.13,497.55 L764.17,498.55 L764.22,499.55 L764.26,500.55 L764.31,501.55 L764.35,502.55 L764.40,503.55 L764.45,504.55 L764.50,505.55 L764.55,506.55 L764.61,507.55 L764.66,508.55 L764.71,509.55 L764.77,510.55 L764.82,511.55 L764.88,512.55 L764.94,513.55 L765.00,514.55 L765.05,515.55 L765.11,516.55 L765.18,517.55 L765.24,518.55 L765.30,519.55 L765.37,520.55 L765.43,521.55 L765.50,522.55 L765.57,523.55 L765.64,524.55 L765.72,525.55 L765.79,526.55 L765.87,527.55 L765.96,528.55 L766.04,529.55 L766.13,530.55 L766.23,531.55 L766.32,532.55 L766.42,533.55 L766.51,534.55 L766.61,535.55 L766.71,536.55 L766.81,537.55 L766.91,538.55 L767.01,539.55 L767.10,540.55 L767.20,541.55 L767.30,542.55 L767.40,543.55 L767.50,544.55 L767.60,545.55 L767.70,546.55 L767.81,547.55 L767.92,548.55 L768.03,549.55 L768.14,550.55 L768.26,551.55 L768.38,552.55 L768.50,553.55 L768.62,554.55 L768.74,555.55 L768.87,556.55 L769.00,557.55 L769.13,558.55 L769.27,559.55 L769.39,560.55 L769.52,561.55 L769.64,562.55 L769.76,563.55 L769.88,564.55 L770.00,565.55 L770.12,566.55 L770.25,567.55 L770.37,568.55 L770.49,569.55 L770.62,570.55 L770.74,571.55 L770.86,572.55 L770.98,573.55 L771.10,574.55 L771.21,575.55 L771.32,576.55 L771.43,577.55 L771.54,578.55 L771.64,579.55 L771.73,580.55 L771.82,581.55 L771.89,582.55 L771.97,583.55 L772.05,584.55 L772.12,585.55 L772.18,586.55 L772.22,587.55 L772.25,588.55 L772.25,589.55 L772.23,590.55 L772.20,591.55 L772.15,592.55 L772.10,593.55 L772.04,594.55 L771.98,595.55 L771.91,596.55 L771.83,597.55 L771.72,598.55 L771.61,599.55 L771.48,600.55 L771.34,601.55 L771.21,602.55 L771.08,603.55 L770.94,604.55 L770.80,605.55 L770.65,606.55 L770.49,607.55 L770.32,608.55 L770.14,609.55 L769.94,610.55 L769.71,611.55 L769.46,612.55 L769.19,613.55 L768.90,614.55 L768.60,615.55 L768.29,616.55 L767.97,617.55 L767.62,618.55 L767.25,619.55 L766.87,620.55 L766.46,621.55 L766.05,622.55 L765.64,623.55 L765.22,624.55 L764.79,625.55 L764.35,626.55 L763.90,627.55 L763.44,628.55 L762.97,629.55 L762.51,630.55 L762.04,631.55 L761.56,632.55 L761.07,633.55 L760.58,634.55 L760.09,635.55 L759.60,636.55 L759.11,637.55 L758.63,638.55 L758.15,639.55 L757.67,640.55 L757.19,641.55 L756.72,642.55 L756.25,643.55 L755.79,644.55 L755.35,645.55 L754.90,646.55 L754.46,647.55 L754.02,648.55 L753.60,649.55 L753.20,650.55 L752.84,651.55 L752.50,652.55 L752.17,653.55 L751.84,654.55 L751.53,655.55 L751.25,656.55 L751.01,657.55 L750.83,658.55 L750.70,659.55 L750.58,660.55 L750.47,661.55 L750.38,662.55 L750.32,663.55 L750.28,664.55 L750.28,665.00 L815.42,665.00 L815.42,664.55 L815.38,663.55 L815.32,662.55 L815.23,661.55 L815.12,660.55 L815.00,659.55 L814.87,658.55 L814.69,657.55 L814.45,656.55 L814.17,655.55 L813.86,654.55 L813.53,653.55 L813.20,652.55 L812.86,651.55 L812.50,650.55 L812.10,649.55 L811.68,648.55 L811.24,647.55 L810.80,646.55 L810.35,645.55 L809.91,644.55 L809.45,643.55 L808.98,642.55 L808.51,641.55 L808.03,640.55 L807.55,639.55 L807.07,638.55 L806.59,637.55 L806.10,636.55 L805.61,635.55 L805.12,634.55 L804.63,633.55 L804.14,632.55 L803.66,631.55 L803.19,630.55 L802.73,629.55 L802.26,628.55 L801.80,627.55 L801.35,626.55 L800.91,625.55 L800.48,624.55 L800.06,623.55 L799.65,622.55 L799.24,621.55 L798.83,620.55 L798.45,619.55 L798.08,618.55 L797.73,617.55 L797.41,616.55 L797.10,615.55 L796.80,614.55 L796.51,613.55 L796.24,612.55 L795.99,611.55 L795.76,610.55 L795.56,609.55 L795.38,608.55 L795.21,607.55 L795.05,606.55 L794.90,605.55 L794.76,604.55 L794.62,603.55 L794.49,602.55 L794.36,601.55 L794.22,600.55 L794.09,599.55 L793.98,598.55 L793.87,597.55 L793.79,596.55 L793.72,595.55 L793.66,594.55 L793.60,593.55 L793.55,592.55 L793.50,591.55 L793.47,590.55 L793.45,589.55 L793.45,588.55 L793.48,587.55 L793.52,586.55 L793.58,585.55 L793.65,584.55 L793.73,583.55 L793.81,582.55 L793.88,581.55 L793.97,580.55 L794.06,579.55 L794.16,578.55 L794.27,577.55 L794.38,576.55 L794.49,575.55 L794.60,574.55 L794.72,573.55 L794.84,572.55 L794.96,571.55 L795.08,570.55 L795.21,569.55 L795.33,568.55 L795.45,567.55 L795.58,566.55 L795.70,565.55 L795.82,564.55 L795.94,563.55 L796.06,562.55 L796.18,561.55 L796.31,560.55 L796.43,559.55 L796.57,558.55 L796.70,557.55 L796.83,556.55 L796.96,555.55 L797.08,554.55 L797.20,553.55 L797.32,552.55 L797.44,551.55 L797.56,550.55 L797.67,549.55 L797.78,548.55 L797.89,547.55 L798.00,546.55 L798.10,545.55 L798.20,544.55 L798.30,543.55 L798.40,542.55 L798.50,541.55 L798.60,540.55 L798.69,539.55 L798.79,538.55 L798.89,537.55 L798.99,536.55 L799.09,535.55 L799.19,534.55 L799.28,533.55 L799.38,532.55 L799.47,531.55 L799.57,530.55 L799.66,529.55 L799.74,528.55 L799.83,527.55 L799.91,526.55 L799.98,525.55 L800.06,524.55 L800.13,523.55 L800.20,522.55 L800.27,521.55 L800.33,520.55 L800.40,519.55 L800.46,518.55 L800.52,517.55 L800.59,516.55 L800.65,515.55 L800.70,514.55 L800.76,513.55 L800.82,512.55 L800.88,511.55 L800.93,510.55 L800.99,509.55 L801.04,508.55 L801.09,507.55 L801.15,506.55 L801.20,505.55 L801.25,504.55 L801.30,503.55 L801.35,502.55 L801.39,501.55 L801.44,500.55 L801.48,499.55 L801.53,498.55 L801.57,497.55 L801.61,496.55 L801.65,495.55 L801.69,494.55 L801.72,493.55 L801.76,492.55 L801.79,491.55 L801.83,490.55 L801.86,489.55 L801.90,488.55 L801.93,487.55 L801.96,486.55 L802.00,485.55 L802.03,484.55 L802.07,483.55 L802.10,482.55 L802.13,481.55 L802.17,480.55 L802.21,479.55 L802.24,478.55 L802.28,477.55 L802.31,476.55 L802.34,475.55 L802.37,474.55 L802.41,473.55 L802.43,472.55 L802.46,471.55 L802.49,470.55 L802.51,469.55 L802.53,468.55 L802.55,467.55 L802.57,466.55 L802.59,465.55 L802.61,464.55 L802.63,463.55 L802.65,462.55 L802.66,461.55 L802.68,460.55 L802.69,459.55 L802.71,458.55 L802.73,457.55 L802.74,456.55 L802.76,455.55 L802.77,454.55 L802.79,453.55 L802.81,452.55 L802.83,451.55 L802.85,450.55 L802.87,449.55 L802.89,448.55 L802.90,447.55 L802.92,446.55 L802.93,445.55 L802.94,444.55 L802.95,443.55 L802.95,442.55 L802.95,441.55 L802.95,440.55 L802.95,439.55 L802.95,438.55 L802.95,437.55 L802.95,436.55 L802.95,435.55 L802.95,434.55 L802.95,433.55 L802.95,432.55 L802.95,431.55 L802.95,430.55 L802.95,429.55 L802.95,428.55 L802.95,427.55 L802.95,426.55 L802.95,425.55 L802.95,424.55 L802.95,423.55 L802.95,422.55 L802.95,421.55 L802.95,420.55 L802.95,419.55 L802.95,418.55 L802.95,417.55 L802.95,416.55 L802.95,415.55 L802.95,414.55 L802.95,413.55 L802.94,412.55 L802.92,411.55 L802.89,410.55 L802.86,409.55 L802.82,408.55 L802.77,407.55 L802.72,406.55 L802.67,405.55 L802.61,404.55 L802.55,403.55 L802.49,402.55 L802.44,401.55 L802.38,400.55 L802.33,399.55 L802.27,398.55 L802.21,397.55 L802.15,396.55 L802.08,395.55 L802.01,394.55 L801.94,393.55 L801.87,392.55 L801.79,391.55 L801.72,390.55 L801.64,389.55 L801.56,388.55 L801.48,387.55 L801.40,386.55 L801.31,385.55 L801.23,384.55 L801.14,383.55 L801.04,382.55 L800.95,381.55 L800.85,380.55 L800.75,379.55 L800.65,378.55 L800.55,377.55 L800.44,376.55 L800.34,375.55 L800.23,374.55 L800.12,373.55 L800.01,372.55 L799.90,371.55 L799.79,370.55 L799.67,369.55 L799.55,368.55 L799.43,367.55 L799.31,366.55 L799.19,365.55 L799.06,364.55 L798.94,363.55 L798.81,362.55 L798.69,361.55 L798.56,360.55 L798.44,359.55 L798.32,358.55 L798.20,357.55 L798.08,356.55 L797.96,355.55 L797.84,354.55 L797.73,353.55 L797.61,352.55 L797.50,351.55 L797.38,350.55 L797.27,349.55 L797.15,348.55 L797.03,347.55 L796.91,346.55 L796.79,345.55 L796.67,344.55 L796.54,343.55 L796.42,342.55 L796.29,341.55 L796.16,340.55 L796.03,339.55 L795.89,338.55 L795.76,337.55 L795.62,336.55 L795.49,335.55 L795.36,334.55 L795.22,333.55 L795.09,332.55 L794.95,331.55 L794.82,330.55 L794.69,329.55 L794.56,328.55 L794.43,327.55 L794.30,326.55 L794.17,325.55 L794.04,324.55 L793.91,323.55 L793.78,322.55 L793.65,321.55 L793.53,320.55 L793.40,319.55 L793.27,318.55 L793.14,317.55 L793.02,316.55 L792.89,315.55 L792.77,314.55 L792.64,313.55 L792.52,312.55 L792.39,311.55 L792.27,310.55 L792.14,309.55 L792.02,308.55 L791.90,307.55 L791.77,306.55 L791.66,305.55 L791.54,304.55 L791.42,303.55 L791.31,302.55 L791.20,301.55 L791.09,300.55 L790.98,299.55 L790.87,298.55 L790.76,297.55 L790.65,296.55 L790.54,295.55 L790.44,294.55 L790.34,293.55 L790.24,292.55 L790.14,291.55 L790.05,290.55 L789.97,289.55 L789.89,288.55 L789.82,287.55 L789.75,286.55 L789.68,285.55 L789.62,284.55 L789.56,283.55 L789.51,282.55 L789.45,281.55 L789.40,280.55 L789.35,279.55 L789.29,278.55 L789.24,277.55 L789.19,276.55 L789.14,275.55 L789.08,274.55 L789.02,273.55 L788.97,272.55 L788.91,271.55 L788.85,270.55 L788.79,269.55 L788.73,268.55 L788.68,267.55 L788.62,266.55 L788.56,265.55 L788.50,264.55 L788.45,263.55 L788.39,262.55 L788.33,261.55 L788.28,260.55 L788.23,259.55 L788.17,258.55 L788.12,257.55 L788.07,256.55 L788.02,255.55 L787.97,254.55 L787.92,253.55 L787.87,252.55 L787.82,251.55 L787.77,250.55 L787.72,249.55 L787.67,248.55 L787.62,247.55 L787.58,246.55 L787.53,245.55 L787.48,244.55 L787.43,243.55 L787.38,242.55 L787.34,241.55 L787.29,240.55 L787.24,239.55 L787.19,238.55 L787.14,237.55 L787.10,236.55 L787.05,235.55 L787.00,234.55 L786.95,233.55 L786.91,232.55 L786.86,231.55 L786.81,230.55 L786.77,229.55 L786.72,228.55 L786.67,227.55 L786.63,226.55 L786.58,225.55 L786.54,224.55 L786.49,223.55 L786.45,222.55 L786.40,221.55 L786.36,220.55 L786.32,219.55 L786.27,218.55 L786.23,217.55 L786.19,216.55 L786.15,215.55 L786.11,214.55 L786.06,213.55 L786.02,212.55 L785.98,211.55 L785.94,210.55 L785.90,209.55 L785.86,208.55 L785.82,207.55 L785.79,206.55 L785.75,205.55 L785.71,204.55 L785.67,203.55 L785.63,202.55 L785.59,201.55 L785.55,200.55 L785.52,199.55 L785.48,198.55 L785.44,197.55 L785.40,196.55 L785.36,195.55 L785.32,194.55 L785.29,193.55 L785.25,192.55 L785.21,191.55 L785.17,190.55 L785.13,189.55 L785.09,188.55 L785.05,187.55 L785.01,186.55 L784.97,185.55 L784.93,184.55 L784.89,183.55 L784.85,182.55 L784.81,181.55 L784.77,180.55 L784.73,179.55 L784.69,178.55 L784.65,177.55 L784.61,176.55 L784.57,175.55 L784.53,174.55 L784.49,173.55 L784.45,172.55 L784.41,171.55 L784.38,170.55 L784.34,169.55 L784.31,168.55 L784.28,167.55 L784.25,166.55 L784.22,165.55 L784.19,164.55 L784.16,163.55 L784.13,162.55 L784.10,161.55 L784.08,160.55 L784.05,159.55 L784.03,158.55 L784.00,157.55 L783.98,156.55 L783.95,155.55 L783.93,154.55 L783.91,153.55 L783.89,152.55 L783.87,151.55 L783.85,150.55 L783.83,149.55 L783.81,148.55 L783.79,147.55 L783.77,146.55 L783.76,145.55 L783.74,144.55 L783.72,143.55 L783.71,142.55 L783.69,141.55 L783.68,140.55 L783.66,139.55 L783.65,138.55 L783.63,137.55 L783.62,136.55 L783.61,135.55 L783.59,134.55 L783.58,133.55 L783.57,132.55 L783.56,131.55 L783.55,130.55Z" fill="#FF62BC"/>
</g>
<g stroke="#000" stroke-width="2.22" fill="none" stroke-linecap="butt">
<path d="M88.3,70 V694.41"/>
<path d="M87.19,693.3 H827.1"/>
<path d="M81.1,665.00 H88.3"/>
<path d="M81.1,521.53 H88.3"/>
<path d="M81.1,378.06 H88.3"/>
<path d="M81.1,234.59 H88.3"/>
<path d="M81.1,91.12 H88.3"/>
<path d="M131.70,693.3 V700.55"/>
<path d="M204.05,693.3 V700.55"/>
<path d="M276.40,693.3 V700.55"/>
<path d="M348.75,693.3 V700.55"/>
<path d="M421.10,693.3 V700.55"/>
<path d="M493.45,693.3 V700.55"/>
<path d="M565.80,693.3 V700.55"/>
<path d="M638.15,693.3 V700.55"/>
<path d="M710.50,693.3 V700.55"/>
<path d="M782.85,693.3 V700.55"/>
</g>
<g transform="translate(74.6,673.90)" font-size="25.9"><text transform="translate(-14.30,0) scale(0.993,1)">0</text></g>
<g transform="translate(74.6,530.43)" font-size="25.9"><text transform="translate(-14.30,0) scale(0.993,1)">1</text></g>
<g transform="translate(74.6,386.96)" font-size="25.9"><text transform="translate(-14.30,0) scale(0.993,1)">2</text></g>
<g transform="translate(74.6,243.49)" font-size="25.9"><text transform="translate(-14.30,0) scale(0.993,1)">3</text></g>
<g transform="translate(74.6,100.02)" font-size="25.9"><text transform="translate(-14.30,0) scale(0.993,1)">4</text></g>
<g transform="translate(144.30,719.8) rotate(-45)" font-size="25.9"><text transform="translate(-73.73,0) scale(0.941,1)">B</text><text transform="translate(-50.98,0) scale(0.927,1)">c</text><text transform="translate(-38.98,0) scale(0.979,1)">e</text><text transform="translate(-24.88,0) scale(1.121,1)">l</text><text transform="translate(-18.43,0) scale(1.121,1)">l</text><text transform="translate(-11.98,0) scale(0.925,1)">s</text></g>
<g transform="translate(216.65,719.8) rotate(-45)" font-size="25.9"><text transform="translate(-212.38,0) scale(0.845,1)">C</text><text transform="translate(-196.58,0) scale(0.976,1)">D</text><text transform="translate(-178.33,0) scale(0.993,1)">1</text><text transform="translate(-164.03,0) scale(0.993,1)">4</text><text transform="translate(-149.72,0) scale(0.945,1)">+</text><text transform="translate(-128.92,0) scale(1.083,1)">m</text><text transform="translate(-105.55,0) scale(1.050,1)">o</text><text transform="translate(-90.42,0) scale(1.073,1)">n</text><text transform="translate(-74.97,0) scale(1.050,1)">o</text><text transform="translate(-59.85,0) scale(0.927,1)">c</text><text transform="translate(-47.85,0) scale(0.985,1)">y</text><text transform="translate(-35.10,0) scale(1.254,1)">t</text><text transform="translate(-26.07,0) scale(0.979,1)">e</text><text transform="translate(-11.97,0) scale(0.925,1)">s</text></g>
<g transform="translate(289.00,719.8) rotate(-45)" font-size="25.9"><text transform="translate(-212.38,0) scale(0.845,1)">C</text><text transform="translate(-196.58,0) scale(0.976,1)">D</text><text transform="translate(-178.33,0) scale(0.993,1)">1</text><text transform="translate(-164.03,0) scale(0.993,1)">6</text><text transform="translate(-149.72,0) scale(0.945,1)">+</text><text transform="translate(-128.92,0) scale(1.083,1)">m</text><text transform="translate(-105.55,0) scale(1.050,1)">o</text><text transform="translate(-90.42,0) scale(1.073,1)">n</text><text transform="translate(-74.97,0) scale(1.050,1)">o</text><text transform="translate(-59.85,0) scale(0.927,1)">c</text><text transform="translate(-47.85,0) scale(0.985,1)">y</text><text transform="translate(-35.10,0) scale(1.254,1)">t</text><text transform="translate(-26.07,0) scale(0.979,1)">e</text><text transform="translate(-11.97,0) scale(0.925,1)">s</text></g>
<g transform="translate(361.35,719.8) rotate(-45)" font-size="25.9"><text transform="translate(-140.53,0) scale(0.845,1)">C</text><text transform="translate(-124.73,0) scale(0.976,1)">D</text><text transform="translate(-106.48,0) scale(0.993,1)">4</text><text transform="translate(-92.18,0) scale(0.945,1)">+</text><text transform="translate(-71.38,0) scale(0.879,1)">T</text><text transform="translate(-50.98,0) scale(0.927,1)">c</text><text transform="translate(-38.98,0) scale(0.979,1)">e</text><text transform="translate(-24.88,0) scale(1.121,1)">l</text><text transform="translate(-18.43,0) scale(1.121,1)">l</text><text transform="translate(-11.98,0) scale(0.925,1)">s</text></g>
<g transform="translate(433.70,719.8) rotate(-45)" font-size="25.9"><text transform="translate(-140.53,0) scale(0.845,1)">C</text><text transform="translate(-124.73,0) scale(0.976,1)">D</text><text transform="translate(-106.48,0) scale(0.993,1)">8</text><text transform="translate(-92.18,0) scale(0.945,1)">+</text><text transform="translate(-71.38,0) scale(0.879,1)">T</text><text transform="translate(-50.98,0) scale(0.927,1)">c</text><text transform="translate(-38.98,0) scale(0.979,1)">e</text><text transform="translate(-24.88,0) scale(1.121,1)">l</text><text transform="translate(-18.43,0) scale(1.121,1)">l</text><text transform="translate(-11.98,0) scale(0.925,1)">s</text></g>
<g transform="translate(506.05,719.8) rotate(-45)" font-size="25.9"><text transform="translate(-46.05,0) scale(0.927,1)">c</text><text transform="translate(-34.05,0) scale(0.976,1)">D</text><text transform="translate(-15.80,0) scale(0.845,1)">C</text></g>
<g transform="translate(578.40,719.8) rotate(-45)" font-size="25.9"><text transform="translate(-191.60,0) scale(1.051,1)">M</text><text transform="translate(-168.93,0) scale(0.979,1)">e</text><text transform="translate(-154.83,0) scale(1.067,1)">g</text><text transform="translate(-139.45,0) scale(0.974,1)">a</text><text transform="translate(-125.43,0) scale(1.031,1)">k</text><text transform="translate(-112.08,0) scale(0.974,1)">a</text><text transform="translate(-98.05,0) scale(1.197,1)">r</text><text transform="translate(-87.73,0) scale(0.985,1)">y</text><text transform="translate(-74.98,0) scale(1.050,1)">o</text><text transform="translate(-59.85,0) scale(0.927,1)">c</text><text transform="translate(-47.85,0) scale(0.985,1)">y</text><text transform="translate(-35.10,0) scale(1.254,1)">t</text><text transform="translate(-26.08,0) scale(0.979,1)">e</text><text transform="translate(-11.98,0) scale(0.925,1)">s</text></g>
<g transform="translate(650.75,719.8) rotate(-45)" font-size="25.9"><text transform="translate(-91.90,0) scale(1.016,1)">N</text><text transform="translate(-72.90,0) scale(0.893,1)">K</text><text transform="translate(-50.98,0) scale(0.927,1)">c</text><text transform="translate(-38.98,0) scale(0.979,1)">e</text><text transform="translate(-24.88,0) scale(1.121,1)">l</text><text transform="translate(-18.43,0) scale(1.121,1)">l</text><text transform="translate(-11.98,0) scale(0.925,1)">s</text></g>
<g transform="translate(723.10,719.8) rotate(-45)" font-size="25.9"><text transform="translate(-49.42,0) scale(1.067,1)">p</text><text transform="translate(-34.05,0) scale(0.976,1)">D</text><text transform="translate(-15.80,0) scale(0.845,1)">C</text></g>
<g transform="translate(795.45,719.8) rotate(-45)" font-size="25.9"><text transform="translate(-153.80,0) scale(0.876,1)">P</text><text transform="translate(-138.68,0) scale(1.121,1)">l</text><text transform="translate(-132.23,0) scale(0.974,1)">a</text><text transform="translate(-118.20,0) scale(0.925,1)">s</text><text transform="translate(-106.23,0) scale(1.083,1)">m</text><text transform="translate(-82.85,0) scale(0.974,1)">a</text><text transform="translate(-68.83,0) scale(1.067,1)">b</text><text transform="translate(-53.45,0) scale(1.121,1)">l</text><text transform="translate(-47.00,0) scale(0.974,1)">a</text><text transform="translate(-32.98,0) scale(0.925,1)">s</text><text transform="translate(-21.00,0) scale(1.254,1)">t</text><text transform="translate(-11.98,0) scale(0.925,1)">s</text></g>
<g transform="translate(47.3,381.7) rotate(-90)" font-size="30.3"><text transform="translate(-113.60,0) scale(0.803,1)">E</text><text transform="translate(-97.38,0) scale(1.019,1)">x</text><text transform="translate(-81.95,0) scale(1.065,1)">p</text><text transform="translate(-64.01,0) scale(1.194,1)">r</text><text transform="translate(-51.97,0) scale(0.976,1)">e</text><text transform="translate(-35.51,0) scale(0.922,1)">s</text><text transform="translate(-21.54,0) scale(0.922,1)">s</text><text transform="translate(-7.57,0) scale(1.118,1)">i</text><text transform="translate(-0.04,0) scale(1.047,1)">o</text><text transform="translate(17.60,0) scale(1.070,1)">n</text><text transform="translate(43.22,0) scale(0.898,1)">L</text><text transform="translate(58.35,0) scale(0.976,1)">e</text><text transform="translate(74.81,0) scale(0.978,1)">v</text><text transform="translate(89.62,0) scale(0.976,1)">e</text><text transform="translate(106.08,0) scale(1.118,1)">l</text></g>
<g font-size="33" font-weight="bold">
<text transform="translate(378.27,48.6) scale(1.012,1)">A</text>
<text transform="translate(402.38,48.6) scale(1.098,1)">N</text>
<text transform="translate(430.06,48.6) scale(0.877,1)">K</text>
<text transform="translate(451.83,48.6) scale(0.893,1)">R</text>
<text transform="translate(473.84,48.6) scale(0.978,1)">D</text>
<text transform="translate(498.34,48.6) scale(1.000,1)">3</text>
<text transform="translate(517.05,48.6) scale(1.034,1)">6</text>
</g>
<g stroke="#333333" stroke-width="2.22" stroke-linejoin="miter">
<rect x="856.68" y="223.98" width="29.04" height="29.04" fill="#F8766D"/>
<rect x="856.68" y="255.98" width="29.04" height="29.04" fill="#D89000"/>
<rect x="856.68" y="287.98" width="29.04" height="29.04" fill="#A3A500"/>
<rect x="856.68" y="319.98" width="29.04" height="29.04" fill="#39B600"/>
<rect x="856.68" y="351.98" width="29.04" height="29.04" fill="#00BF7D"/>
<rect x="856.68" y="383.98" width="29.04" height="29.04" fill="#00BFC4"/>
<rect x="856.68" y="415.98" width="29.04" height="29.04" fill="#00B0F6"/>
<rect x="856.68" y="447.98" width="29.04" height="29.04" fill="#9590FF"/>
<rect x="856.68" y="479.98" width="29.04" height="29.04" fill="#E76BF3"/>
<rect x="856.68" y="511.98" width="29.04" height="29.04" fill="#FF62BC"/>
</g>
<g transform="translate(902.3,247.40)" font-size="25.9"><text transform="translate(0.00,0) scale(0.941,1)">B</text><text transform="translate(22.75,0) scale(0.927,1)">c</text><text transform="translate(34.75,0) scale(0.979,1)">e</text><text transform="translate(48.85,0) scale(1.121,1)">l</text><text transform="translate(55.30,0) scale(1.121,1)">l</text><text transform="translate(61.75,0) scale(0.925,1)">s</text></g>
<g transform="translate(902.3,279.40)" font-size="25.9"><text transform="translate(0.00,0) scale(0.845,1)">C</text><text transform="translate(15.80,0) scale(0.976,1)">D</text><text transform="translate(34.05,0) scale(0.993,1)">1</text><text transform="translate(48.35,0) scale(0.993,1)">4</text><text transform="translate(62.65,0) scale(0.945,1)">+</text><text transform="translate(83.45,0) scale(1.083,1)">m</text><text transform="translate(106.82,0) scale(1.050,1)">o</text><text transform="translate(121.95,0) scale(1.073,1)">n</text><text transform="translate(137.40,0) scale(1.050,1)">o</text><text transform="translate(152.52,0) scale(0.927,1)">c</text><text transform="translate(164.52,0) scale(0.985,1)">y</text><text transform="translate(177.27,0) scale(1.254,1)">t</text><text transform="translate(186.30,0) scale(0.979,1)">e</text><text transform="translate(200.40,0) scale(0.925,1)">s</text></g>
<g transform="translate(902.3,311.40)" font-size="25.9"><text transform="translate(0.00,0) scale(0.845,1)">C</text><text transform="translate(15.80,0) scale(0.976,1)">D</text><text transform="translate(34.05,0) scale(0.993,1)">1</text><text transform="translate(48.35,0) scale(0.993,1)">6</text><text transform="translate(62.65,0) scale(0.945,1)">+</text><text transform="translate(83.45,0) scale(1.083,1)">m</text><text transform="translate(106.82,0) scale(1.050,1)">o</text><text transform="translate(121.95,0) scale(1.073,1)">n</text><text transform="translate(137.40,0) scale(1.050,1)">o</text><text transform="translate(152.52,0) scale(0.927,1)">c</text><text transform="translate(164.52,0) scale(0.985,1)">y</text><text transform="translate(177.27,0) scale(1.254,1)">t</text><text transform="translate(186.30,0) scale(0.979,1)">e</text><text transform="translate(200.40,0) scale(0.925,1)">s</text></g>
<g transform="translate(902.3,343.40)" font-size="25.9"><text transform="translate(0.00,0) scale(0.845,1)">C</text><text transform="translate(15.80,0) scale(0.976,1)">D</text><text transform="translate(34.05,0) scale(0.993,1)">4</text><text transform="translate(48.35,0) scale(0.945,1)">+</text><text transform="translate(69.15,0) scale(0.879,1)">T</text><text transform="translate(89.55,0) scale(0.927,1)">c</text><text transform="translate(101.55,0) scale(0.979,1)">e</text><text transform="translate(115.65,0) scale(1.121,1)">l</text><text transform="translate(122.10,0) scale(1.121,1)">l</text><text transform="translate(128.55,0) scale(0.925,1)">s</text></g>
<g transform="translate(902.3,375.40)" font-size="25.9"><text transform="translate(0.00,0) scale(0.845,1)">C</text><text transform="translate(15.80,0) scale(0.976,1)">D</text><text transform="translate(34.05,0) scale(0.993,1)">8</text><text transform="translate(48.35,0) scale(0.945,1)">+</text><text transform="translate(69.15,0) scale(0.879,1)">T</text><text transform="translate(89.55,0) scale(0.927,1)">c</text><text transform="translate(101.55,0) scale(0.979,1)">e</text><text transform="translate(115.65,0) scale(1.121,1)">l</text><text transform="translate(122.10,0) scale(1.121,1)">l</text><text transform="translate(128.55,0) scale(0.925,1)">s</text></g>
<g transform="translate(902.3,407.40)" font-size="25.9"><text transform="translate(0.00,0) scale(0.927,1)">c</text><text transform="translate(12.00,0) scale(0.976,1)">D</text><text transform="translate(30.25,0) scale(0.845,1)">C</text></g>
<g transform="translate(902.3,439.40)" font-size="25.9"><text transform="translate(0.00,0) scale(1.051,1)">M</text><text transform="translate(22.68,0) scale(0.979,1)">e</text><text transform="translate(36.78,0) scale(1.067,1)">g</text><text transform="translate(52.15,0) scale(0.974,1)">a</text><text transform="translate(66.18,0) scale(1.031,1)">k</text><text transform="translate(79.53,0) scale(0.974,1)">a</text><text transform="translate(93.55,0) scale(1.197,1)">r</text><text transform="translate(103.88,0) scale(0.985,1)">y</text><text transform="translate(116.63,0) scale(1.050,1)">o</text><text transform="translate(131.75,0) scale(0.927,1)">c</text><text transform="translate(143.75,0) scale(0.985,1)">y</text><text transform="translate(156.50,0) scale(1.254,1)">t</text><text transform="translate(165.53,0) scale(0.979,1)">e</text><text transform="translate(179.62,0) scale(0.925,1)">s</text></g>
<g transform="translate(902.3,471.40)" font-size="25.9"><text transform="translate(0.00,0) scale(1.016,1)">N</text><text transform="translate(19.00,0) scale(0.893,1)">K</text><text transform="translate(40.92,0) scale(0.927,1)">c</text><text transform="translate(52.92,0) scale(0.979,1)">e</text><text transform="translate(67.03,0) scale(1.121,1)">l</text><text transform="translate(73.48,0) scale(1.121,1)">l</text><text transform="translate(79.93,0) scale(0.925,1)">s</text></g>
<g transform="translate(902.3,503.40)" font-size="25.9"><text transform="translate(0.00,0) scale(1.067,1)">p</text><text transform="translate(15.38,0) scale(0.976,1)">D</text><text transform="translate(33.62,0) scale(0.845,1)">C</text></g>
<g transform="translate(902.3,535.40)" font-size="25.9"><text transform="translate(0.00,0) scale(0.876,1)">P</text><text transform="translate(15.12,0) scale(1.121,1)">l</text><text transform="translate(21.57,0) scale(0.974,1)">a</text><text transform="translate(35.60,0) scale(0.925,1)">s</text><text transform="translate(47.58,0) scale(1.083,1)">m</text><text transform="translate(70.95,0) scale(0.974,1)">a</text><text transform="translate(84.98,0) scale(1.067,1)">b</text><text transform="translate(100.35,0) scale(1.121,1)">l</text><text transform="translate(106.80,0) scale(0.974,1)">a</text><text transform="translate(120.83,0) scale(0.925,1)">s</text><text transform="translate(132.80,0) scale(1.254,1)">t</text><text transform="translate(141.83,0) scale(0.925,1)">s</text></g>
</svg></div></body></html>
